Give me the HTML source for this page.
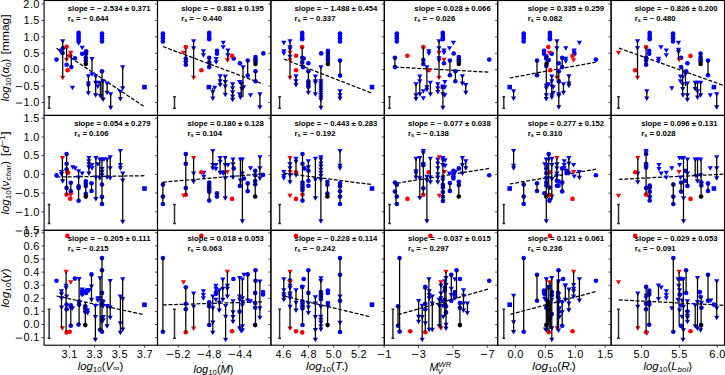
<!DOCTYPE html>
<html><head><meta charset="utf-8"><style>
html,body{margin:0;padding:0;background:#fff;}
svg{display:block;}
text{font-family:"Liberation Sans", sans-serif;fill:#000;}
</style></head><body>
<svg width="725" height="375" viewBox="0 0 725 375">
<rect width="725" height="375" fill="#fff"/>
<defs>
<clipPath id="c00"><rect x="44.10" y="0.50" width="113.40" height="114.90"/></clipPath>
<clipPath id="c01"><rect x="157.50" y="0.50" width="113.40" height="114.90"/></clipPath>
<clipPath id="c02"><rect x="270.90" y="0.50" width="113.40" height="114.90"/></clipPath>
<clipPath id="c03"><rect x="384.30" y="0.50" width="113.40" height="114.90"/></clipPath>
<clipPath id="c04"><rect x="497.70" y="0.50" width="113.40" height="114.90"/></clipPath>
<clipPath id="c05"><rect x="611.10" y="0.50" width="113.40" height="114.90"/></clipPath>
<clipPath id="c10"><rect x="44.10" y="115.40" width="113.40" height="114.90"/></clipPath>
<clipPath id="c11"><rect x="157.50" y="115.40" width="113.40" height="114.90"/></clipPath>
<clipPath id="c12"><rect x="270.90" y="115.40" width="113.40" height="114.90"/></clipPath>
<clipPath id="c13"><rect x="384.30" y="115.40" width="113.40" height="114.90"/></clipPath>
<clipPath id="c14"><rect x="497.70" y="115.40" width="113.40" height="114.90"/></clipPath>
<clipPath id="c15"><rect x="611.10" y="115.40" width="113.40" height="114.90"/></clipPath>
<clipPath id="c20"><rect x="44.10" y="230.30" width="113.40" height="114.90"/></clipPath>
<clipPath id="c21"><rect x="157.50" y="230.30" width="113.40" height="114.90"/></clipPath>
<clipPath id="c22"><rect x="270.90" y="230.30" width="113.40" height="114.90"/></clipPath>
<clipPath id="c23"><rect x="384.30" y="230.30" width="113.40" height="114.90"/></clipPath>
<clipPath id="c24"><rect x="497.70" y="230.30" width="113.40" height="114.90"/></clipPath>
<clipPath id="c25"><rect x="611.10" y="230.30" width="113.40" height="114.90"/></clipPath>
</defs>
<g clip-path="url(#c00)">
<line x1="56.5" y1="48.3" x2="143.8" y2="106.3" stroke="#000" stroke-width="1.25" stroke-dasharray="3.9,1.7"/>
<path d="M49.1,96.7V108.2M47.7,96.7H50.5M47.7,108.2H50.5" stroke="#2a2a2a" stroke-width="1.45" fill="none"/>
<circle cx="78.6" cy="32.8" r="2.32" fill="#0000ff"/>
<circle cx="78.6" cy="35" r="2.32" fill="#0000ff"/>
<circle cx="78.6" cy="37" r="2.32" fill="#0000ff"/>
<circle cx="78.6" cy="39" r="2.32" fill="#0000ff"/>
<circle cx="78.6" cy="41" r="2.32" fill="#0000ff"/>
<circle cx="102" cy="33.6" r="2.32" fill="#0000ff"/>
<circle cx="102" cy="35.9" r="2.32" fill="#0000ff"/>
<circle cx="102" cy="38.2" r="2.32" fill="#0000ff"/>
<circle cx="102" cy="41.4" r="2.32" fill="#0000ff"/>
<circle cx="61" cy="50.5" r="2.32" fill="#0000ff"/>
<circle cx="62.5" cy="53" r="2.32" fill="#0000ff"/>
<circle cx="63" cy="48" r="2.32" fill="#0000ff"/>
<circle cx="56.5" cy="59.6" r="2.32" fill="#0000ff"/>
<circle cx="74.9" cy="58.2" r="2.32" fill="#0000ff"/>
<circle cx="66.6" cy="64.7" r="2.32" fill="#0000ff"/>
<circle cx="71.3" cy="67.1" r="2.32" fill="#0000ff"/>
<circle cx="82.2" cy="53.8" r="2.32" fill="#0000ff"/>
<circle cx="86.1" cy="51.2" r="2.32" fill="#0000ff"/>
<circle cx="86.1" cy="53.8" r="2.32" fill="#0000ff"/>
<circle cx="85.8" cy="57.7" r="2.32" fill="#0000ff"/>
<circle cx="85.8" cy="60.8" r="2.32" fill="#0000ff"/>
<circle cx="102" cy="71.2" r="2.32" fill="#0000ff"/>
<path d="M76.00,41.15H81.20L78.60,45.65Z" fill="#0000ff"/>
<path d="M60.10,39.15H65.30L62.70,43.65Z" fill="#0000ff"/>
<path d="M79.60,45.75H84.80L82.20,50.25Z" fill="#0000ff"/>
<path d="M89.40,57.05H94.60L92.00,61.55Z" fill="#0000ff"/>
<path d="M120.10,65.15H125.30L122.70,69.65Z" fill="#0000ff"/>
<path d="M85.80,74.15H91.00L88.40,78.65Z" fill="#0000ff"/>
<path d="M89.40,72.15H94.60L92.00,76.65Z" fill="#0000ff"/>
<path d="M93.10,74.45H98.30L95.70,78.95Z" fill="#0000ff"/>
<path d="M85.80,81.45H91.00L88.40,85.95Z" fill="#0000ff"/>
<path d="M85.80,83.75H91.00L88.40,88.25Z" fill="#0000ff"/>
<path d="M85.80,91.25H91.00L88.40,95.75Z" fill="#0000ff"/>
<path d="M93.10,80.75H98.30L95.70,85.25Z" fill="#0000ff"/>
<path d="M93.10,93.15H98.30L95.70,97.65Z" fill="#0000ff"/>
<path d="M96.00,80.75H101.20L98.60,85.25Z" fill="#0000ff"/>
<path d="M95.20,84.55H100.40L97.80,89.05Z" fill="#0000ff"/>
<path d="M100.30,79.15H105.50L102.90,83.65Z" fill="#0000ff"/>
<path d="M97.80,93.95H103.00L100.40,98.45Z" fill="#0000ff"/>
<path d="M100.60,97.55H105.80L103.20,102.05Z" fill="#0000ff"/>
<path d="M104.50,81.45H109.70L107.10,85.95Z" fill="#0000ff"/>
<path d="M104.50,90.85H109.70L107.10,95.35Z" fill="#0000ff"/>
<path d="M108.10,92.35H113.30L110.70,96.85Z" fill="#0000ff"/>
<path d="M108.10,105.65H113.30L110.70,110.15Z" fill="#0000ff"/>
<path d="M120.10,86.15H125.30L122.70,90.65Z" fill="#0000ff"/>
<path d="M117.80,89.75H123.00L120.40,94.25Z" fill="#0000ff"/>
<path d="M117.80,97.05H123.00L120.40,101.55Z" fill="#0000ff"/>
<path d="M69.90,85.65H75.10L72.50,90.15Z" fill="#0000ff"/>
<rect x="142.20" y="84.80" width="4.6" height="4.6" fill="#0000ff"/>
<circle cx="66.6" cy="46.8" r="2.32" fill="#ff0000"/>
<circle cx="70.2" cy="55.4" r="2.32" fill="#ff0000"/>
<circle cx="67.7" cy="70.2" r="2.32" fill="#ff0000"/>
<path d="M60.10,75.75H65.30L62.70,80.25Z" fill="#ff0000"/>
<path d="M68.20,50.75H73.40L70.80,55.25Z" fill="#ff0000"/>
<path d="M64.00,57.75H69.20L66.60,62.25Z" fill="#ff0000"/>
<circle cx="85.8" cy="64" r="2.32" fill="#000000"/>
<line x1="62.7" y1="41.4" x2="62.7" y2="78" stroke="#000" stroke-width="1.25"/>
<line x1="66.6" y1="48.4" x2="66.6" y2="60.8" stroke="#000" stroke-width="1.25"/>
<line x1="71.3" y1="54.6" x2="71.3" y2="67.1" stroke="#000" stroke-width="1.25"/>
<line x1="85.8" y1="51.2" x2="85.8" y2="64" stroke="#000" stroke-width="1.25"/>
<line x1="92" y1="59.3" x2="92" y2="71.8" stroke="#000" stroke-width="1.25"/>
<line x1="102" y1="71.2" x2="102" y2="100" stroke="#000" stroke-width="1.25"/>
<line x1="122.7" y1="67.4" x2="122.7" y2="88.4" stroke="#000" stroke-width="1.25"/>
<line x1="120.4" y1="92" x2="120.4" y2="99.3" stroke="#000" stroke-width="1.25"/>
<line x1="88.4" y1="76.4" x2="88.4" y2="93.5" stroke="#000" stroke-width="1.25"/>
<line x1="95.7" y1="76.7" x2="95.7" y2="95.4" stroke="#000" stroke-width="1.25"/>
<line x1="100.4" y1="81.4" x2="100.4" y2="96.2" stroke="#000" stroke-width="1.25"/>
<line x1="103" y1="81.4" x2="103" y2="99.8" stroke="#000" stroke-width="1.25"/>
<line x1="107.1" y1="83.7" x2="107.1" y2="93.1" stroke="#000" stroke-width="1.25"/>
<line x1="110.7" y1="94.6" x2="110.7" y2="107.9" stroke="#000" stroke-width="1.25"/>
</g>
<g clip-path="url(#c01)">
<line x1="162.9" y1="46.5" x2="263" y2="84" stroke="#000" stroke-width="1.25" stroke-dasharray="3.9,1.7"/>
<path d="M174.5,96.7V108.2M173.1,96.7H175.9M173.1,108.2H175.9" stroke="#2a2a2a" stroke-width="1.45" fill="none"/>
<circle cx="162.9" cy="33.6" r="2.32" fill="#0000ff"/>
<circle cx="162.9" cy="35.9" r="2.32" fill="#0000ff"/>
<circle cx="162.9" cy="38.2" r="2.32" fill="#0000ff"/>
<circle cx="162.9" cy="41.4" r="2.32" fill="#0000ff"/>
<circle cx="209.2" cy="32.8" r="2.32" fill="#0000ff"/>
<circle cx="209.2" cy="35.1" r="2.32" fill="#0000ff"/>
<circle cx="209.2" cy="37.5" r="2.32" fill="#0000ff"/>
<circle cx="209.2" cy="39.3" r="2.32" fill="#0000ff"/>
<circle cx="185.8" cy="58.5" r="2.32" fill="#0000ff"/>
<circle cx="185.8" cy="61.2" r="2.32" fill="#0000ff"/>
<circle cx="185.8" cy="64.7" r="2.32" fill="#0000ff"/>
<circle cx="209.2" cy="57.7" r="2.32" fill="#0000ff"/>
<circle cx="209.2" cy="62.4" r="2.32" fill="#0000ff"/>
<circle cx="209.2" cy="67.1" r="2.32" fill="#0000ff"/>
<circle cx="217" cy="50.7" r="2.32" fill="#0000ff"/>
<circle cx="217" cy="53.8" r="2.32" fill="#0000ff"/>
<circle cx="233.7" cy="58.5" r="2.32" fill="#0000ff"/>
<circle cx="239.9" cy="63.2" r="2.32" fill="#0000ff"/>
<circle cx="247.7" cy="60.5" r="2.32" fill="#0000ff"/>
<circle cx="247.7" cy="75.6" r="2.32" fill="#0000ff"/>
<circle cx="255.5" cy="57" r="2.32" fill="#0000ff"/>
<circle cx="255.5" cy="59.3" r="2.32" fill="#0000ff"/>
<circle cx="255.5" cy="61.2" r="2.32" fill="#0000ff"/>
<circle cx="255.5" cy="71.3" r="2.32" fill="#0000ff"/>
<circle cx="255.5" cy="81.2" r="2.32" fill="#0000ff"/>
<circle cx="263.3" cy="53.4" r="2.32" fill="#0000ff"/>
<path d="M191.00,39.15H196.20L193.60,43.65Z" fill="#0000ff"/>
<path d="M191.00,46.15H196.20L193.60,50.65Z" fill="#0000ff"/>
<path d="M200.80,49.25H206.00L203.40,53.75Z" fill="#0000ff"/>
<path d="M200.80,53.15H206.00L203.40,57.65Z" fill="#0000ff"/>
<path d="M213.60,57.05H218.80L216.20,61.55Z" fill="#0000ff"/>
<path d="M213.60,60.15H218.80L216.20,64.65Z" fill="#0000ff"/>
<path d="M220.60,40.65H225.80L223.20,45.15Z" fill="#0000ff"/>
<path d="M220.60,45.35H225.80L223.20,49.85Z" fill="#0000ff"/>
<path d="M225.30,48.45H230.50L227.90,52.95Z" fill="#0000ff"/>
<path d="M225.30,53.15H230.50L227.90,57.65Z" fill="#0000ff"/>
<path d="M240.40,65.15H245.60L243.00,69.65Z" fill="#0000ff"/>
<path d="M212.10,85.65H217.30L214.70,90.15Z" fill="#0000ff"/>
<path d="M210.20,90.05H215.40L212.80,94.55Z" fill="#0000ff"/>
<path d="M210.20,96.55H215.40L212.80,101.05Z" fill="#0000ff"/>
<path d="M217.50,74.15H222.70L220.10,78.65Z" fill="#0000ff"/>
<path d="M217.50,79.15H222.70L220.10,83.65Z" fill="#0000ff"/>
<path d="M217.50,83.05H222.70L220.10,87.55Z" fill="#0000ff"/>
<path d="M222.70,74.45H227.90L225.30,78.95Z" fill="#0000ff"/>
<path d="M222.70,79.95H227.90L225.30,84.45Z" fill="#0000ff"/>
<path d="M222.70,84.55H227.90L225.30,89.05Z" fill="#0000ff"/>
<path d="M222.70,92.85H227.90L225.30,97.35Z" fill="#0000ff"/>
<path d="M230.00,82.25H235.20L232.60,86.75Z" fill="#0000ff"/>
<path d="M230.00,86.15H235.20L232.60,90.65Z" fill="#0000ff"/>
<path d="M230.00,90.35H235.20L232.60,94.85Z" fill="#0000ff"/>
<path d="M230.00,94.45H235.20L232.60,98.95Z" fill="#0000ff"/>
<path d="M230.00,97.85H235.20L232.60,102.35Z" fill="#0000ff"/>
<path d="M237.00,79.95H242.20L239.60,84.45Z" fill="#0000ff"/>
<path d="M238.60,81.45H243.80L241.20,85.95Z" fill="#0000ff"/>
<path d="M237.00,92.35H242.20L239.60,96.85Z" fill="#0000ff"/>
<path d="M237.80,95.45H243.00L240.40,99.95Z" fill="#0000ff"/>
<path d="M239.30,86.95H244.50L241.90,91.45Z" fill="#0000ff"/>
<path d="M240.90,85.35H246.10L243.50,89.85Z" fill="#0000ff"/>
<path d="M247.90,93.15H253.10L250.50,97.65Z" fill="#0000ff"/>
<path d="M257.30,92.35H262.50L259.90,96.85Z" fill="#0000ff"/>
<path d="M257.30,105.35H262.50L259.90,109.85Z" fill="#0000ff"/>
<rect x="206.60" y="84.80" width="4.6" height="4.6" fill="#0000ff"/>
<circle cx="185.8" cy="47.1" r="2.32" fill="#ff0000"/>
<circle cx="201.4" cy="70.2" r="2.32" fill="#ff0000"/>
<circle cx="232.1" cy="55.9" r="2.32" fill="#ff0000"/>
<path d="M180.90,50.85H186.10L183.50,55.35Z" fill="#ff0000"/>
<path d="M191.00,75.75H196.20L193.60,80.25Z" fill="#ff0000"/>
<path d="M224.80,58.25H230.00L227.40,62.75Z" fill="#ff0000"/>
<circle cx="255.5" cy="64" r="2.32" fill="#000000"/>
<line x1="185.8" y1="48.4" x2="185.8" y2="64.7" stroke="#000" stroke-width="1.25"/>
<line x1="193.6" y1="41.4" x2="193.6" y2="78" stroke="#000" stroke-width="1.25"/>
<line x1="203.4" y1="51.5" x2="203.4" y2="55.4" stroke="#000" stroke-width="1.25"/>
<line x1="209.2" y1="57.7" x2="209.2" y2="67.1" stroke="#000" stroke-width="1.25"/>
<line x1="227.9" y1="50.7" x2="227.9" y2="60.5" stroke="#000" stroke-width="1.25"/>
<line x1="243" y1="67.4" x2="243" y2="97" stroke="#000" stroke-width="1.25"/>
<line x1="241.2" y1="82" x2="241.2" y2="97" stroke="#000" stroke-width="1.25"/>
<line x1="247.7" y1="60.5" x2="247.7" y2="75.6" stroke="#000" stroke-width="1.25"/>
<line x1="255.5" y1="57" x2="255.5" y2="64" stroke="#000" stroke-width="1.25"/>
<line x1="255.5" y1="71.3" x2="255.5" y2="81.4" stroke="#000" stroke-width="1.25"/>
<line x1="212.8" y1="87.9" x2="212.8" y2="98.8" stroke="#000" stroke-width="1.25"/>
<line x1="220.1" y1="76.4" x2="220.1" y2="85.3" stroke="#000" stroke-width="1.25"/>
<line x1="225.3" y1="76.7" x2="225.3" y2="95.1" stroke="#000" stroke-width="1.25"/>
<line x1="232.6" y1="84.5" x2="232.6" y2="100.1" stroke="#000" stroke-width="1.25"/>
<line x1="259.9" y1="94.6" x2="259.9" y2="107.6" stroke="#000" stroke-width="1.25"/>
</g>
<g clip-path="url(#c02)">
<line x1="283.8" y1="59" x2="371.5" y2="93" stroke="#000" stroke-width="1.25" stroke-dasharray="3.9,1.7"/>
<path d="M279.6,96.7V108.2M278.20000000000005,96.7H281.0M278.20000000000005,108.2H281.0" stroke="#2a2a2a" stroke-width="1.45" fill="none"/>
<circle cx="302.2" cy="32.8" r="2.32" fill="#0000ff"/>
<circle cx="302.2" cy="35.1" r="2.32" fill="#0000ff"/>
<circle cx="302.2" cy="37.5" r="2.32" fill="#0000ff"/>
<circle cx="302.2" cy="39.3" r="2.32" fill="#0000ff"/>
<circle cx="340" cy="33.6" r="2.32" fill="#0000ff"/>
<circle cx="340" cy="35.9" r="2.32" fill="#0000ff"/>
<circle cx="340" cy="38.2" r="2.32" fill="#0000ff"/>
<circle cx="340" cy="41.4" r="2.32" fill="#0000ff"/>
<circle cx="302.2" cy="57.7" r="2.32" fill="#0000ff"/>
<circle cx="303.7" cy="58.5" r="2.32" fill="#0000ff"/>
<circle cx="302.2" cy="62.4" r="2.32" fill="#0000ff"/>
<circle cx="303" cy="67.1" r="2.32" fill="#0000ff"/>
<circle cx="308.4" cy="63.2" r="2.32" fill="#0000ff"/>
<circle cx="308.4" cy="71.3" r="2.32" fill="#0000ff"/>
<circle cx="308.4" cy="81.2" r="2.32" fill="#0000ff"/>
<circle cx="308.4" cy="83.7" r="2.32" fill="#0000ff"/>
<circle cx="308.4" cy="86" r="2.32" fill="#0000ff"/>
<circle cx="321.2" cy="53.4" r="2.32" fill="#0000ff"/>
<circle cx="327.9" cy="50.7" r="2.32" fill="#0000ff"/>
<circle cx="327.9" cy="53.1" r="2.32" fill="#0000ff"/>
<circle cx="327.9" cy="55.9" r="2.32" fill="#0000ff"/>
<circle cx="327.9" cy="58.5" r="2.32" fill="#0000ff"/>
<circle cx="327.9" cy="60.8" r="2.32" fill="#0000ff"/>
<circle cx="340" cy="60.5" r="2.32" fill="#0000ff"/>
<circle cx="340" cy="75.6" r="2.32" fill="#0000ff"/>
<path d="M281.20,40.65H286.40L283.80,45.15Z" fill="#0000ff"/>
<path d="M281.20,49.25H286.40L283.80,53.75Z" fill="#0000ff"/>
<path d="M281.20,51.55H286.40L283.80,56.05Z" fill="#0000ff"/>
<path d="M287.40,39.15H292.60L290.00,43.65Z" fill="#0000ff"/>
<path d="M287.40,45.35H292.60L290.00,49.85Z" fill="#0000ff"/>
<path d="M287.40,47.35H292.60L290.00,51.85Z" fill="#0000ff"/>
<path d="M287.40,54.75H292.60L290.00,59.25Z" fill="#0000ff"/>
<path d="M293.40,74.15H298.60L296.00,78.65Z" fill="#0000ff"/>
<path d="M293.40,79.15H298.60L296.00,83.65Z" fill="#0000ff"/>
<path d="M293.40,83.05H298.60L296.00,87.55Z" fill="#0000ff"/>
<path d="M305.80,86.15H311.00L308.40,90.65Z" fill="#0000ff"/>
<path d="M305.80,90.85H311.00L308.40,95.35Z" fill="#0000ff"/>
<path d="M312.80,74.45H318.00L315.40,78.95Z" fill="#0000ff"/>
<path d="M312.80,79.15H318.00L315.40,83.65Z" fill="#0000ff"/>
<path d="M312.80,80.75H318.00L315.40,85.25Z" fill="#0000ff"/>
<path d="M312.80,92.35H318.00L315.40,96.85Z" fill="#0000ff"/>
<path d="M318.30,65.15H323.50L320.90,69.65Z" fill="#0000ff"/>
<path d="M318.30,79.15H323.50L320.90,83.65Z" fill="#0000ff"/>
<path d="M318.30,81.45H323.50L320.90,85.95Z" fill="#0000ff"/>
<path d="M318.30,83.75H323.50L320.90,88.25Z" fill="#0000ff"/>
<path d="M318.30,86.15H323.50L320.90,90.65Z" fill="#0000ff"/>
<path d="M318.30,88.45H323.50L320.90,92.95Z" fill="#0000ff"/>
<path d="M318.30,90.75H323.50L320.90,95.25Z" fill="#0000ff"/>
<path d="M318.30,93.15H323.50L320.90,97.65Z" fill="#0000ff"/>
<path d="M318.30,95.45H323.50L320.90,99.95Z" fill="#0000ff"/>
<path d="M318.30,97.75H323.50L320.90,102.25Z" fill="#0000ff"/>
<path d="M318.30,105.65H323.50L320.90,110.15Z" fill="#0000ff"/>
<path d="M337.40,89.25H342.60L340.00,93.75Z" fill="#0000ff"/>
<path d="M337.40,93.15H342.60L340.00,97.65Z" fill="#0000ff"/>
<path d="M337.40,96.55H342.60L340.00,101.05Z" fill="#0000ff"/>
<rect x="369.70" y="84.80" width="4.6" height="4.6" fill="#0000ff"/>
<circle cx="302.2" cy="47.1" r="2.32" fill="#ff0000"/>
<circle cx="296" cy="55.7" r="2.32" fill="#ff0000"/>
<circle cx="296" cy="70.2" r="2.32" fill="#ff0000"/>
<path d="M287.40,50.85H292.60L290.00,55.35Z" fill="#ff0000"/>
<path d="M287.40,58.25H292.60L290.00,62.75Z" fill="#ff0000"/>
<path d="M287.40,75.75H292.60L290.00,80.25Z" fill="#ff0000"/>
<circle cx="327.9" cy="64" r="2.32" fill="#000000"/>
<line x1="302.2" y1="47.1" x2="302.2" y2="67.1" stroke="#000" stroke-width="1.25"/>
<line x1="290" y1="41.4" x2="290" y2="78" stroke="#000" stroke-width="1.25"/>
<line x1="296" y1="76.4" x2="296" y2="85.3" stroke="#000" stroke-width="1.25"/>
<line x1="308.4" y1="71.3" x2="308.4" y2="93.1" stroke="#000" stroke-width="1.25"/>
<line x1="315.4" y1="76.7" x2="315.4" y2="94.6" stroke="#000" stroke-width="1.25"/>
<line x1="320.9" y1="67.4" x2="320.9" y2="107.9" stroke="#000" stroke-width="1.25"/>
<line x1="327.9" y1="50.7" x2="327.9" y2="64" stroke="#000" stroke-width="1.25"/>
<line x1="340" y1="60.5" x2="340" y2="75.6" stroke="#000" stroke-width="1.25"/>
<line x1="340" y1="91.5" x2="340" y2="98.8" stroke="#000" stroke-width="1.25"/>
</g>
<g clip-path="url(#c03)">
<line x1="394.9" y1="67.1" x2="489.2" y2="72.2" stroke="#000" stroke-width="1.25" stroke-dasharray="3.9,1.7"/>
<path d="M389.5,96.7V108.2M388.1,96.7H390.9M388.1,108.2H390.9" stroke="#2a2a2a" stroke-width="1.45" fill="none"/>
<circle cx="396.8" cy="33.6" r="2.32" fill="#0000ff"/>
<circle cx="396.8" cy="35.9" r="2.32" fill="#0000ff"/>
<circle cx="396.8" cy="38.2" r="2.32" fill="#0000ff"/>
<circle cx="396.8" cy="41.4" r="2.32" fill="#0000ff"/>
<circle cx="442.8" cy="32.8" r="2.32" fill="#0000ff"/>
<circle cx="442.8" cy="35.1" r="2.32" fill="#0000ff"/>
<circle cx="442.8" cy="37.5" r="2.32" fill="#0000ff"/>
<circle cx="442.8" cy="39.3" r="2.32" fill="#0000ff"/>
<circle cx="394.9" cy="57.7" r="2.32" fill="#0000ff"/>
<circle cx="394.9" cy="67.1" r="2.32" fill="#0000ff"/>
<circle cx="423.3" cy="60.1" r="2.32" fill="#0000ff"/>
<circle cx="423.3" cy="64" r="2.32" fill="#0000ff"/>
<circle cx="444" cy="63.2" r="2.32" fill="#0000ff"/>
<circle cx="453.7" cy="53.5" r="2.32" fill="#0000ff"/>
<circle cx="449.9" cy="60.5" r="2.32" fill="#0000ff"/>
<circle cx="449.9" cy="75.3" r="2.32" fill="#0000ff"/>
<circle cx="458.8" cy="57" r="2.32" fill="#0000ff"/>
<circle cx="458.8" cy="59.3" r="2.32" fill="#0000ff"/>
<circle cx="458.8" cy="61.2" r="2.32" fill="#0000ff"/>
<circle cx="455.4" cy="71.3" r="2.32" fill="#0000ff"/>
<circle cx="455.4" cy="81.2" r="2.32" fill="#0000ff"/>
<circle cx="489.2" cy="59.6" r="2.32" fill="#0000ff"/>
<path d="M426.30,49.25H431.50L428.90,53.75Z" fill="#0000ff"/>
<path d="M426.30,51.55H431.50L428.90,56.05Z" fill="#0000ff"/>
<path d="M424.30,65.15H429.50L426.90,69.65Z" fill="#0000ff"/>
<path d="M436.40,39.15H441.60L439.00,43.65Z" fill="#0000ff"/>
<path d="M436.40,46.15H441.60L439.00,50.65Z" fill="#0000ff"/>
<path d="M436.40,56.25H441.60L439.00,60.75Z" fill="#0000ff"/>
<path d="M436.40,58.55H441.60L439.00,63.05Z" fill="#0000ff"/>
<path d="M441.40,48.45H446.60L444.00,52.95Z" fill="#0000ff"/>
<path d="M441.40,50.85H446.60L444.00,55.35Z" fill="#0000ff"/>
<path d="M446.90,46.15H452.10L449.50,50.65Z" fill="#0000ff"/>
<path d="M450.80,40.65H456.00L453.40,45.15Z" fill="#0000ff"/>
<path d="M413.40,82.25H418.60L416.00,86.75Z" fill="#0000ff"/>
<path d="M413.40,93.15H418.60L416.00,97.65Z" fill="#0000ff"/>
<path d="M413.40,97.05H418.60L416.00,101.55Z" fill="#0000ff"/>
<path d="M417.20,74.45H422.40L419.80,78.95Z" fill="#0000ff"/>
<path d="M417.20,79.15H422.40L419.80,83.65Z" fill="#0000ff"/>
<path d="M417.20,92.35H422.40L419.80,96.85Z" fill="#0000ff"/>
<path d="M420.70,89.25H425.90L423.30,93.75Z" fill="#0000ff"/>
<path d="M420.70,96.25H425.90L423.30,100.75Z" fill="#0000ff"/>
<path d="M424.30,85.35H429.50L426.90,89.85Z" fill="#0000ff"/>
<path d="M424.30,87.75H429.50L426.90,92.25Z" fill="#0000ff"/>
<path d="M427.80,80.75H433.00L430.40,85.25Z" fill="#0000ff"/>
<path d="M427.80,92.35H433.00L430.40,96.85Z" fill="#0000ff"/>
<path d="M435.20,82.25H440.40L437.80,86.75Z" fill="#0000ff"/>
<path d="M435.20,86.15H440.40L437.80,90.65Z" fill="#0000ff"/>
<path d="M435.20,90.05H440.40L437.80,94.55Z" fill="#0000ff"/>
<path d="M440.30,92.35H445.50L442.90,96.85Z" fill="#0000ff"/>
<path d="M440.30,105.65H445.50L442.90,110.15Z" fill="#0000ff"/>
<path d="M442.20,79.95H447.40L444.80,84.45Z" fill="#0000ff"/>
<path d="M442.20,85.35H447.40L444.80,89.85Z" fill="#0000ff"/>
<path d="M442.20,93.15H447.40L444.80,97.65Z" fill="#0000ff"/>
<path d="M459.80,74.15H465.00L462.40,78.65Z" fill="#0000ff"/>
<path d="M459.80,81.45H465.00L462.40,85.95Z" fill="#0000ff"/>
<path d="M463.20,83.05H468.40L465.80,87.55Z" fill="#0000ff"/>
<path d="M463.20,90.85H468.40L465.80,95.35Z" fill="#0000ff"/>
<rect x="440.60" y="84.50" width="4.6" height="4.6" fill="#0000ff"/>
<circle cx="407.4" cy="55.7" r="2.32" fill="#ff0000"/>
<circle cx="423.3" cy="47.1" r="2.32" fill="#ff0000"/>
<circle cx="428.7" cy="70.2" r="2.32" fill="#ff0000"/>
<path d="M436.40,50.85H441.60L439.00,55.35Z" fill="#ff0000"/>
<path d="M436.40,75.75H441.60L439.00,80.25Z" fill="#ff0000"/>
<path d="M441.40,57.85H446.60L444.00,62.35Z" fill="#ff0000"/>
<circle cx="458.8" cy="64" r="2.32" fill="#000000"/>
<line x1="394.9" y1="57.7" x2="394.9" y2="67.1" stroke="#000" stroke-width="1.25"/>
<line x1="423.3" y1="47.1" x2="423.3" y2="64" stroke="#000" stroke-width="1.25"/>
<line x1="426.9" y1="67.4" x2="426.9" y2="90" stroke="#000" stroke-width="1.25"/>
<line x1="439" y1="41.4" x2="439" y2="78" stroke="#000" stroke-width="1.25"/>
<line x1="449.9" y1="60.5" x2="449.9" y2="75.3" stroke="#000" stroke-width="1.25"/>
<line x1="455.4" y1="71.3" x2="455.4" y2="81.2" stroke="#000" stroke-width="1.25"/>
<line x1="458.8" y1="57" x2="458.8" y2="64" stroke="#000" stroke-width="1.25"/>
<line x1="416" y1="84.5" x2="416" y2="99.3" stroke="#000" stroke-width="1.25"/>
<line x1="419.8" y1="76.7" x2="419.8" y2="94.6" stroke="#000" stroke-width="1.25"/>
<line x1="430.4" y1="83" x2="430.4" y2="94.6" stroke="#000" stroke-width="1.25"/>
<line x1="437.8" y1="84.5" x2="437.8" y2="92.3" stroke="#000" stroke-width="1.25"/>
<line x1="442.9" y1="86.8" x2="442.9" y2="107.9" stroke="#000" stroke-width="1.25"/>
<line x1="462.4" y1="76.4" x2="462.4" y2="83.7" stroke="#000" stroke-width="1.25"/>
<line x1="465.8" y1="85.3" x2="465.8" y2="93.1" stroke="#000" stroke-width="1.25"/>
</g>
<g clip-path="url(#c04)">
<line x1="509.7" y1="78" x2="595.9" y2="62.1" stroke="#000" stroke-width="1.25" stroke-dasharray="3.9,1.7"/>
<path d="M503.8,96.7V108.2M502.40000000000003,96.7H505.2M502.40000000000003,108.2H505.2" stroke="#2a2a2a" stroke-width="1.45" fill="none"/>
<circle cx="523.7" cy="33.6" r="2.32" fill="#0000ff"/>
<circle cx="523.7" cy="35.9" r="2.32" fill="#0000ff"/>
<circle cx="523.7" cy="38.2" r="2.32" fill="#0000ff"/>
<circle cx="523.7" cy="41.4" r="2.32" fill="#0000ff"/>
<circle cx="549.9" cy="32.8" r="2.32" fill="#0000ff"/>
<circle cx="549.9" cy="35.1" r="2.32" fill="#0000ff"/>
<circle cx="549.9" cy="37.5" r="2.32" fill="#0000ff"/>
<circle cx="549.9" cy="39.3" r="2.32" fill="#0000ff"/>
<circle cx="537" cy="60.5" r="2.32" fill="#0000ff"/>
<circle cx="537" cy="75.2" r="2.32" fill="#0000ff"/>
<circle cx="544" cy="50.7" r="2.32" fill="#0000ff"/>
<circle cx="544" cy="53.8" r="2.32" fill="#0000ff"/>
<circle cx="546.3" cy="56.2" r="2.32" fill="#0000ff"/>
<circle cx="546.3" cy="58.5" r="2.32" fill="#0000ff"/>
<circle cx="548.7" cy="60.1" r="2.32" fill="#0000ff"/>
<circle cx="551.8" cy="53.8" r="2.32" fill="#0000ff"/>
<circle cx="546.3" cy="66" r="2.32" fill="#0000ff"/>
<circle cx="558.8" cy="63.2" r="2.32" fill="#0000ff"/>
<circle cx="558.8" cy="71.3" r="2.32" fill="#0000ff"/>
<circle cx="558.8" cy="81.4" r="2.32" fill="#0000ff"/>
<circle cx="562.2" cy="57.7" r="2.32" fill="#0000ff"/>
<circle cx="562.2" cy="67.1" r="2.32" fill="#0000ff"/>
<circle cx="574.4" cy="53.8" r="2.32" fill="#0000ff"/>
<circle cx="595.9" cy="59.6" r="2.32" fill="#0000ff"/>
<path d="M554.30,39.15H559.50L556.90,43.65Z" fill="#0000ff"/>
<path d="M554.30,46.15H559.50L556.90,50.65Z" fill="#0000ff"/>
<path d="M563.20,46.15H568.40L565.80,50.65Z" fill="#0000ff"/>
<path d="M563.20,56.75H568.40L565.80,61.25Z" fill="#0000ff"/>
<path d="M563.20,59.35H568.40L565.80,63.85Z" fill="#0000ff"/>
<path d="M571.50,48.45H576.70L574.10,52.95Z" fill="#0000ff"/>
<path d="M571.50,50.85H576.70L574.10,55.35Z" fill="#0000ff"/>
<path d="M576.80,40.65H582.00L579.40,45.15Z" fill="#0000ff"/>
<path d="M511.00,89.25H516.20L513.60,93.75Z" fill="#0000ff"/>
<path d="M511.00,96.55H516.20L513.60,101.05Z" fill="#0000ff"/>
<path d="M543.70,83.75H548.90L546.30,88.25Z" fill="#0000ff"/>
<path d="M543.70,86.15H548.90L546.30,90.65Z" fill="#0000ff"/>
<path d="M543.70,93.15H548.90L546.30,97.65Z" fill="#0000ff"/>
<path d="M543.70,97.05H548.90L546.30,101.55Z" fill="#0000ff"/>
<path d="M546.10,82.25H551.30L548.70,86.75Z" fill="#0000ff"/>
<path d="M549.20,74.45H554.40L551.80,78.95Z" fill="#0000ff"/>
<path d="M549.20,79.15H554.40L551.80,83.65Z" fill="#0000ff"/>
<path d="M549.20,84.55H554.40L551.80,89.05Z" fill="#0000ff"/>
<path d="M549.20,93.15H554.40L551.80,97.65Z" fill="#0000ff"/>
<path d="M549.20,95.45H554.40L551.80,99.95Z" fill="#0000ff"/>
<path d="M550.70,85.35H555.90L553.30,89.85Z" fill="#0000ff"/>
<path d="M550.70,90.85H555.90L553.30,95.35Z" fill="#0000ff"/>
<path d="M556.20,92.35H561.40L558.80,96.85Z" fill="#0000ff"/>
<path d="M556.20,93.95H561.40L558.80,98.45Z" fill="#0000ff"/>
<path d="M556.20,105.35H561.40L558.80,109.85Z" fill="#0000ff"/>
<path d="M560.90,82.25H566.10L563.50,86.75Z" fill="#0000ff"/>
<path d="M560.90,90.85H566.10L563.50,95.35Z" fill="#0000ff"/>
<path d="M566.30,74.15H571.50L568.90,78.65Z" fill="#0000ff"/>
<path d="M566.30,81.45H571.50L568.90,85.95Z" fill="#0000ff"/>
<path d="M566.30,83.75H571.50L568.90,88.25Z" fill="#0000ff"/>
<rect x="507.40" y="84.80" width="4.6" height="4.6" fill="#0000ff"/>
<circle cx="548.3" cy="47.1" r="2.32" fill="#ff0000"/>
<circle cx="550.2" cy="70.2" r="2.32" fill="#ff0000"/>
<circle cx="572.5" cy="55.9" r="2.32" fill="#ff0000"/>
<path d="M546.80,50.85H552.00L549.40,55.35Z" fill="#ff0000"/>
<path d="M554.30,75.75H559.50L556.90,80.25Z" fill="#ff0000"/>
<path d="M571.00,58.25H576.20L573.60,62.75Z" fill="#ff0000"/>
<circle cx="546.6" cy="63.7" r="2.32" fill="#000000"/>
<line x1="537" y1="60.5" x2="537" y2="75.2" stroke="#000" stroke-width="1.25"/>
<line x1="546.3" y1="56" x2="546.3" y2="99.3" stroke="#000" stroke-width="1.25"/>
<line x1="551.8" y1="76.7" x2="551.8" y2="97.7" stroke="#000" stroke-width="1.25"/>
<line x1="556.9" y1="41.4" x2="556.9" y2="78" stroke="#000" stroke-width="1.25"/>
<line x1="558.8" y1="71.3" x2="558.8" y2="107.6" stroke="#000" stroke-width="1.25"/>
<line x1="562.2" y1="57.7" x2="562.2" y2="67.1" stroke="#000" stroke-width="1.25"/>
<line x1="513.6" y1="91.5" x2="513.6" y2="98.8" stroke="#000" stroke-width="1.25"/>
<line x1="563.5" y1="84.5" x2="563.5" y2="93.1" stroke="#000" stroke-width="1.25"/>
<line x1="568.9" y1="76.4" x2="568.9" y2="86" stroke="#000" stroke-width="1.25"/>
</g>
<g clip-path="url(#c05)">
<line x1="618.8" y1="48.1" x2="724" y2="85.6" stroke="#000" stroke-width="1.25" stroke-dasharray="3.9,1.7"/>
<path d="M618.5,96.7V108.2M617.1,96.7H619.9M617.1,108.2H619.9" stroke="#2a2a2a" stroke-width="1.45" fill="none"/>
<circle cx="649.7" cy="32.8" r="2.32" fill="#0000ff"/>
<circle cx="649.7" cy="35.1" r="2.32" fill="#0000ff"/>
<circle cx="649.7" cy="37.5" r="2.32" fill="#0000ff"/>
<circle cx="649.7" cy="39.3" r="2.32" fill="#0000ff"/>
<circle cx="673" cy="33.6" r="2.32" fill="#0000ff"/>
<circle cx="673" cy="35.9" r="2.32" fill="#0000ff"/>
<circle cx="673" cy="38.2" r="2.32" fill="#0000ff"/>
<circle cx="673" cy="41.4" r="2.32" fill="#0000ff"/>
<circle cx="646.1" cy="57.7" r="2.32" fill="#0000ff"/>
<circle cx="646.1" cy="60.8" r="2.32" fill="#0000ff"/>
<circle cx="646.1" cy="64.7" r="2.32" fill="#0000ff"/>
<circle cx="649.2" cy="50.7" r="2.32" fill="#0000ff"/>
<circle cx="649.2" cy="53.8" r="2.32" fill="#0000ff"/>
<circle cx="681.1" cy="57.7" r="2.32" fill="#0000ff"/>
<circle cx="681.1" cy="67.1" r="2.32" fill="#0000ff"/>
<circle cx="687.4" cy="63.2" r="2.32" fill="#0000ff"/>
<circle cx="700.6" cy="53.5" r="2.32" fill="#0000ff"/>
<circle cx="700.6" cy="57" r="2.32" fill="#0000ff"/>
<circle cx="700.6" cy="59.3" r="2.32" fill="#0000ff"/>
<circle cx="700.6" cy="61.2" r="2.32" fill="#0000ff"/>
<circle cx="708" cy="60.5" r="2.32" fill="#0000ff"/>
<circle cx="708" cy="75.2" r="2.32" fill="#0000ff"/>
<circle cx="686.1" cy="71.2" r="2.32" fill="#0000ff"/>
<path d="M634.90,39.15H640.10L637.50,43.65Z" fill="#0000ff"/>
<path d="M634.90,46.15H640.10L637.50,50.65Z" fill="#0000ff"/>
<path d="M658.30,45.35H663.50L660.90,49.85Z" fill="#0000ff"/>
<path d="M663.70,48.45H668.90L666.30,52.95Z" fill="#0000ff"/>
<path d="M663.70,53.15H668.90L666.30,57.65Z" fill="#0000ff"/>
<path d="M655.90,56.75H661.10L658.50,61.25Z" fill="#0000ff"/>
<path d="M655.90,59.35H661.10L658.50,63.85Z" fill="#0000ff"/>
<path d="M675.90,40.65H681.10L678.50,45.15Z" fill="#0000ff"/>
<path d="M675.90,47.65H681.10L678.50,52.15Z" fill="#0000ff"/>
<path d="M675.90,50.05H681.10L678.50,54.55Z" fill="#0000ff"/>
<path d="M644.20,89.25H649.40L646.80,93.75Z" fill="#0000ff"/>
<path d="M644.20,96.55H649.40L646.80,101.05Z" fill="#0000ff"/>
<path d="M669.20,86.15H674.40L671.80,90.65Z" fill="#0000ff"/>
<path d="M677.80,74.45H683.00L680.40,78.95Z" fill="#0000ff"/>
<path d="M680.10,75.25H685.30L682.70,79.75Z" fill="#0000ff"/>
<path d="M677.80,79.15H683.00L680.40,83.65Z" fill="#0000ff"/>
<path d="M680.10,82.25H685.30L682.70,86.75Z" fill="#0000ff"/>
<path d="M680.10,86.95H685.30L682.70,91.45Z" fill="#0000ff"/>
<path d="M680.40,93.15H685.60L683.00,97.65Z" fill="#0000ff"/>
<path d="M682.90,72.15H688.10L685.50,76.65Z" fill="#0000ff"/>
<path d="M684.80,81.45H690.00L687.40,85.95Z" fill="#0000ff"/>
<path d="M684.80,93.15H690.00L687.40,97.65Z" fill="#0000ff"/>
<path d="M684.80,97.85H690.00L687.40,102.35Z" fill="#0000ff"/>
<path d="M692.60,80.65H697.80L695.20,85.15Z" fill="#0000ff"/>
<path d="M694.90,80.65H700.10L697.50,85.15Z" fill="#0000ff"/>
<path d="M698.00,80.65H703.20L700.60,85.15Z" fill="#0000ff"/>
<path d="M692.60,86.95H697.80L695.20,91.45Z" fill="#0000ff"/>
<path d="M694.90,89.25H700.10L697.50,93.75Z" fill="#0000ff"/>
<path d="M694.90,95.45H700.10L697.50,99.95Z" fill="#0000ff"/>
<path d="M698.00,93.15H703.20L700.60,97.65Z" fill="#0000ff"/>
<path d="M707.70,93.15H712.90L710.30,97.65Z" fill="#0000ff"/>
<path d="M714.10,92.35H719.30L716.70,96.85Z" fill="#0000ff"/>
<path d="M714.10,105.35H719.30L716.70,109.85Z" fill="#0000ff"/>
<rect x="711.60" y="84.80" width="4.6" height="4.6" fill="#0000ff"/>
<circle cx="635.2" cy="70.2" r="2.32" fill="#ff0000"/>
<circle cx="646.1" cy="47.1" r="2.32" fill="#ff0000"/>
<circle cx="690.5" cy="55.9" r="2.32" fill="#ff0000"/>
<path d="M615.90,50.85H621.10L618.50,55.35Z" fill="#ff0000"/>
<path d="M634.90,75.75H640.10L637.50,80.25Z" fill="#ff0000"/>
<path d="M676.50,57.85H681.70L679.10,62.35Z" fill="#ff0000"/>
<circle cx="700.6" cy="64" r="2.32" fill="#000000"/>
<line x1="637.5" y1="41.4" x2="637.5" y2="78" stroke="#000" stroke-width="1.25"/>
<line x1="646.1" y1="47.1" x2="646.1" y2="64.7" stroke="#000" stroke-width="1.25"/>
<line x1="678.5" y1="49.9" x2="678.5" y2="60.1" stroke="#000" stroke-width="1.25"/>
<line x1="708" y1="60.5" x2="708" y2="75.2" stroke="#000" stroke-width="1.25"/>
<line x1="700.6" y1="53.5" x2="700.6" y2="64" stroke="#000" stroke-width="1.25"/>
<line x1="682.7" y1="67.4" x2="682.7" y2="95.4" stroke="#000" stroke-width="1.25"/>
<line x1="685.5" y1="71.2" x2="685.5" y2="86" stroke="#000" stroke-width="1.25"/>
<line x1="687.4" y1="83.7" x2="687.4" y2="100.1" stroke="#000" stroke-width="1.25"/>
<line x1="646.8" y1="91.5" x2="646.8" y2="98.8" stroke="#000" stroke-width="1.25"/>
<line x1="695.2" y1="82.9" x2="695.2" y2="89.2" stroke="#000" stroke-width="1.25"/>
<line x1="697.5" y1="82.9" x2="697.5" y2="97.7" stroke="#000" stroke-width="1.25"/>
<line x1="700.6" y1="82.9" x2="700.6" y2="95.4" stroke="#000" stroke-width="1.25"/>
<line x1="716.7" y1="94.6" x2="716.7" y2="107.6" stroke="#000" stroke-width="1.25"/>
</g>
<g clip-path="url(#c10)">
<line x1="56.5" y1="177" x2="144.5" y2="175.7" stroke="#000" stroke-width="1.25" stroke-dasharray="3.9,1.7"/>
<path d="M49.1,204.5V223.4M47.7,204.5H50.5M47.7,223.4H50.5" stroke="#2a2a2a" stroke-width="1.45" fill="none"/>
<circle cx="66.6" cy="154" r="2.32" fill="#0000ff"/>
<circle cx="66.6" cy="163.7" r="2.32" fill="#0000ff"/>
<circle cx="66.6" cy="169.2" r="2.32" fill="#0000ff"/>
<circle cx="56.5" cy="175.4" r="2.32" fill="#0000ff"/>
<circle cx="66.6" cy="187.9" r="2.32" fill="#0000ff"/>
<circle cx="70.8" cy="182.7" r="2.32" fill="#0000ff"/>
<circle cx="70.8" cy="191.4" r="2.32" fill="#0000ff"/>
<circle cx="78.6" cy="186.3" r="2.32" fill="#0000ff"/>
<circle cx="78.6" cy="188" r="2.32" fill="#0000ff"/>
<circle cx="78.6" cy="200.8" r="2.32" fill="#0000ff"/>
<circle cx="85.8" cy="181.4" r="2.32" fill="#0000ff"/>
<circle cx="85.8" cy="183.7" r="2.32" fill="#0000ff"/>
<circle cx="85.8" cy="186" r="2.32" fill="#0000ff"/>
<circle cx="85.8" cy="193.8" r="2.32" fill="#0000ff"/>
<circle cx="91.5" cy="183.2" r="2.32" fill="#0000ff"/>
<circle cx="91.5" cy="191" r="2.32" fill="#0000ff"/>
<circle cx="102" cy="184.5" r="2.32" fill="#0000ff"/>
<circle cx="102" cy="196.9" r="2.32" fill="#0000ff"/>
<circle cx="102" cy="204" r="2.32" fill="#0000ff"/>
<path d="M58.90,170.05H64.10L61.50,174.55Z" fill="#0000ff"/>
<path d="M58.90,172.35H64.10L61.50,176.85Z" fill="#0000ff"/>
<path d="M60.10,179.35H65.30L62.70,183.85Z" fill="#0000ff"/>
<path d="M70.20,165.35H75.40L72.80,169.85Z" fill="#0000ff"/>
<path d="M72.60,166.15H77.80L75.20,170.65Z" fill="#0000ff"/>
<path d="M76.00,169.25H81.20L78.60,173.75Z" fill="#0000ff"/>
<path d="M76.00,175.45H81.20L78.60,179.95Z" fill="#0000ff"/>
<path d="M79.60,171.55H84.80L82.20,176.05Z" fill="#0000ff"/>
<path d="M86.30,155.95H91.50L88.90,160.45Z" fill="#0000ff"/>
<path d="M86.30,159.15H91.50L88.90,163.65Z" fill="#0000ff"/>
<path d="M86.30,162.25H91.50L88.90,166.75Z" fill="#0000ff"/>
<path d="M86.30,165.35H91.50L88.90,169.85Z" fill="#0000ff"/>
<path d="M86.30,171.55H91.50L88.90,176.05Z" fill="#0000ff"/>
<path d="M89.40,163.05H94.60L92.00,167.55Z" fill="#0000ff"/>
<path d="M89.40,166.15H94.60L92.00,170.65Z" fill="#0000ff"/>
<path d="M93.30,155.95H98.50L95.90,160.45Z" fill="#0000ff"/>
<path d="M93.30,175.45H98.50L95.90,179.95Z" fill="#0000ff"/>
<path d="M93.30,197.05H98.50L95.90,201.55Z" fill="#0000ff"/>
<path d="M95.20,162.25H100.40L97.80,166.75Z" fill="#0000ff"/>
<path d="M97.20,157.55H102.40L99.80,162.05Z" fill="#0000ff"/>
<path d="M97.20,176.25H102.40L99.80,180.75Z" fill="#0000ff"/>
<path d="M99.40,157.55H104.60L102.00,162.05Z" fill="#0000ff"/>
<path d="M99.40,166.95H104.60L102.00,171.45Z" fill="#0000ff"/>
<path d="M99.40,170.05H104.60L102.00,174.55Z" fill="#0000ff"/>
<path d="M99.40,173.15H104.60L102.00,177.65Z" fill="#0000ff"/>
<path d="M101.40,157.55H106.60L104.00,162.05Z" fill="#0000ff"/>
<path d="M104.50,157.55H109.70L107.10,162.05Z" fill="#0000ff"/>
<path d="M104.50,175.45H109.70L107.10,179.95Z" fill="#0000ff"/>
<path d="M107.60,155.25H112.80L110.20,159.75Z" fill="#0000ff"/>
<path d="M107.60,166.15H112.80L110.20,170.65Z" fill="#0000ff"/>
<path d="M107.60,176.25H112.80L110.20,180.75Z" fill="#0000ff"/>
<path d="M117.80,148.95H123.00L120.40,153.45Z" fill="#0000ff"/>
<path d="M117.80,163.05H123.00L120.40,167.55Z" fill="#0000ff"/>
<path d="M117.80,166.15H123.00L120.40,170.65Z" fill="#0000ff"/>
<path d="M120.10,171.55H125.30L122.70,176.05Z" fill="#0000ff"/>
<path d="M120.10,178.55H125.30L122.70,183.05Z" fill="#0000ff"/>
<path d="M120.10,219.65H125.30L122.70,224.15Z" fill="#0000ff"/>
<rect x="142.20" y="186.20" width="4.6" height="4.6" fill="#0000ff"/>
<circle cx="67.4" cy="172.3" r="2.32" fill="#ff0000"/>
<circle cx="68.2" cy="172.7" r="2.32" fill="#ff0000"/>
<circle cx="66.6" cy="194.6" r="2.32" fill="#ff0000"/>
<circle cx="70.2" cy="198.8" r="2.32" fill="#ff0000"/>
<path d="M59.80,155.95H65.00L62.40,160.45Z" fill="#ff0000"/>
<path d="M68.20,192.95H73.40L70.80,197.45Z" fill="#ff0000"/>
<circle cx="85.8" cy="196.6" r="2.32" fill="#000000"/>
<line x1="62.4" y1="158.2" x2="62.4" y2="180.8" stroke="#000" stroke-width="1.25"/>
<line x1="66.6" y1="154" x2="66.6" y2="194.9" stroke="#000" stroke-width="1.25"/>
<line x1="70.8" y1="182.7" x2="70.8" y2="191.4" stroke="#000" stroke-width="1.25"/>
<line x1="78.6" y1="171.5" x2="78.6" y2="200.8" stroke="#000" stroke-width="1.25"/>
<line x1="85.8" y1="181.4" x2="85.8" y2="196.6" stroke="#000" stroke-width="1.25"/>
<line x1="91.5" y1="183.2" x2="91.5" y2="191" stroke="#000" stroke-width="1.25"/>
<line x1="88.9" y1="158.2" x2="88.9" y2="173.8" stroke="#000" stroke-width="1.25"/>
<line x1="95.9" y1="158.2" x2="95.9" y2="199.3" stroke="#000" stroke-width="1.25"/>
<line x1="99.8" y1="159.8" x2="99.8" y2="178.5" stroke="#000" stroke-width="1.25"/>
<line x1="102" y1="159.8" x2="102" y2="204" stroke="#000" stroke-width="1.25"/>
<line x1="107.1" y1="159.8" x2="107.1" y2="177.7" stroke="#000" stroke-width="1.25"/>
<line x1="110.2" y1="157.5" x2="110.2" y2="178.5" stroke="#000" stroke-width="1.25"/>
<line x1="120.4" y1="151.2" x2="120.4" y2="168.4" stroke="#000" stroke-width="1.25"/>
<line x1="122.7" y1="173.8" x2="122.7" y2="221.9" stroke="#000" stroke-width="1.25"/>
</g>
<g clip-path="url(#c11)">
<line x1="162.9" y1="182.1" x2="263" y2="173.8" stroke="#000" stroke-width="1.25" stroke-dasharray="3.9,1.7"/>
<path d="M174.5,204.5V223.4M173.1,204.5H175.9M173.1,223.4H175.9" stroke="#2a2a2a" stroke-width="1.45" fill="none"/>
<circle cx="162.9" cy="184.6" r="2.32" fill="#0000ff"/>
<circle cx="162.9" cy="196.6" r="2.32" fill="#0000ff"/>
<circle cx="162.9" cy="204" r="2.32" fill="#0000ff"/>
<circle cx="185.8" cy="154" r="2.32" fill="#0000ff"/>
<circle cx="185.8" cy="163.7" r="2.32" fill="#0000ff"/>
<circle cx="185.8" cy="188" r="2.32" fill="#0000ff"/>
<circle cx="209.2" cy="182.6" r="2.32" fill="#0000ff"/>
<circle cx="209.2" cy="184.9" r="2.32" fill="#0000ff"/>
<circle cx="209.2" cy="187.2" r="2.32" fill="#0000ff"/>
<circle cx="209.2" cy="189.5" r="2.32" fill="#0000ff"/>
<circle cx="209.2" cy="191.8" r="2.32" fill="#0000ff"/>
<circle cx="209.2" cy="200.6" r="2.32" fill="#0000ff"/>
<circle cx="217" cy="193.2" r="2.32" fill="#0000ff"/>
<circle cx="217" cy="196.6" r="2.32" fill="#0000ff"/>
<circle cx="223.2" cy="172.3" r="2.32" fill="#0000ff"/>
<circle cx="233.7" cy="168.4" r="2.32" fill="#0000ff"/>
<circle cx="239.9" cy="185.9" r="2.32" fill="#0000ff"/>
<circle cx="244" cy="178.5" r="2.32" fill="#0000ff"/>
<circle cx="247.7" cy="183.4" r="2.32" fill="#0000ff"/>
<circle cx="247.7" cy="191.2" r="2.32" fill="#0000ff"/>
<circle cx="255.2" cy="170.7" r="2.32" fill="#0000ff"/>
<circle cx="255.2" cy="175.2" r="2.32" fill="#0000ff"/>
<circle cx="255.2" cy="181" r="2.32" fill="#0000ff"/>
<circle cx="255.2" cy="184.2" r="2.32" fill="#0000ff"/>
<circle cx="263" cy="174.9" r="2.32" fill="#0000ff"/>
<path d="M191.00,171.55H196.20L193.60,176.05Z" fill="#0000ff"/>
<path d="M191.00,179.85H196.20L193.60,184.35Z" fill="#0000ff"/>
<path d="M201.20,170.85H206.40L203.80,175.35Z" fill="#0000ff"/>
<path d="M201.20,174.75H206.40L203.80,179.25Z" fill="#0000ff"/>
<path d="M210.20,148.95H215.40L212.80,153.45Z" fill="#0000ff"/>
<path d="M210.20,163.05H215.40L212.80,167.55Z" fill="#0000ff"/>
<path d="M210.20,166.15H215.40L212.80,170.65Z" fill="#0000ff"/>
<path d="M213.30,163.05H218.50L215.90,167.55Z" fill="#0000ff"/>
<path d="M213.30,166.95H218.50L215.90,171.45Z" fill="#0000ff"/>
<path d="M217.50,155.95H222.70L220.10,160.45Z" fill="#0000ff"/>
<path d="M217.50,159.85H222.70L220.10,164.35Z" fill="#0000ff"/>
<path d="M217.50,170.85H222.70L220.10,175.35Z" fill="#0000ff"/>
<path d="M220.60,171.55H225.80L223.20,176.05Z" fill="#0000ff"/>
<path d="M222.70,155.95H227.90L225.30,160.45Z" fill="#0000ff"/>
<path d="M222.70,163.05H227.90L225.30,167.55Z" fill="#0000ff"/>
<path d="M222.70,176.25H227.90L225.30,180.75Z" fill="#0000ff"/>
<path d="M222.70,196.35H227.90L225.30,200.85Z" fill="#0000ff"/>
<path d="M225.30,163.05H230.50L227.90,167.55Z" fill="#0000ff"/>
<path d="M230.40,157.55H235.60L233.00,162.05Z" fill="#0000ff"/>
<path d="M230.40,162.25H235.60L233.00,166.75Z" fill="#0000ff"/>
<path d="M230.40,175.45H235.60L233.00,179.95Z" fill="#0000ff"/>
<path d="M237.80,157.55H243.00L240.40,162.05Z" fill="#0000ff"/>
<path d="M237.80,178.55H243.00L240.40,183.05Z" fill="#0000ff"/>
<path d="M239.80,157.55H245.00L242.40,162.05Z" fill="#0000ff"/>
<path d="M239.80,171.55H245.00L242.40,176.05Z" fill="#0000ff"/>
<path d="M239.80,219.35H245.00L242.40,223.85Z" fill="#0000ff"/>
<path d="M247.90,166.15H253.10L250.50,170.65Z" fill="#0000ff"/>
<path d="M257.30,155.25H262.50L259.90,159.75Z" fill="#0000ff"/>
<path d="M257.30,166.15H262.50L259.90,170.65Z" fill="#0000ff"/>
<path d="M257.30,176.45H262.50L259.90,180.95Z" fill="#0000ff"/>
<circle cx="185.8" cy="194.8" r="2.32" fill="#ff0000"/>
<circle cx="201.4" cy="172.3" r="2.32" fill="#ff0000"/>
<circle cx="232.1" cy="198.9" r="2.32" fill="#ff0000"/>
<path d="M181.20,193.45H186.40L183.80,197.95Z" fill="#ff0000"/>
<path d="M191.00,155.95H196.20L193.60,160.45Z" fill="#ff0000"/>
<path d="M224.80,170.05H230.00L227.40,174.55Z" fill="#ff0000"/>
<circle cx="255.2" cy="196.5" r="2.32" fill="#000000"/>
<line x1="162.9" y1="182.1" x2="162.9" y2="204" stroke="#000" stroke-width="1.25"/>
<line x1="185.8" y1="154" x2="185.8" y2="195" stroke="#000" stroke-width="1.25"/>
<line x1="193.6" y1="158.2" x2="193.6" y2="182.1" stroke="#000" stroke-width="1.25"/>
<line x1="209.2" y1="182.6" x2="209.2" y2="200.6" stroke="#000" stroke-width="1.25"/>
<line x1="212.8" y1="151.2" x2="212.8" y2="168.4" stroke="#000" stroke-width="1.25"/>
<line x1="220.1" y1="158.2" x2="220.1" y2="173.1" stroke="#000" stroke-width="1.25"/>
<line x1="225.3" y1="158.2" x2="225.3" y2="198.6" stroke="#000" stroke-width="1.25"/>
<line x1="233" y1="159.8" x2="233" y2="177.7" stroke="#000" stroke-width="1.25"/>
<line x1="240.4" y1="159.8" x2="240.4" y2="185.9" stroke="#000" stroke-width="1.25"/>
<line x1="242.4" y1="159.8" x2="242.4" y2="221.6" stroke="#000" stroke-width="1.25"/>
<line x1="247.7" y1="183.4" x2="247.7" y2="191.2" stroke="#000" stroke-width="1.25"/>
<line x1="255.2" y1="170.7" x2="255.2" y2="196.5" stroke="#000" stroke-width="1.25"/>
<line x1="259.9" y1="157.5" x2="259.9" y2="178.7" stroke="#000" stroke-width="1.25"/>
<line x1="217" y1="193.2" x2="217" y2="196.6" stroke="#000" stroke-width="1.25"/>
</g>
<g clip-path="url(#c12)">
<line x1="283.8" y1="173.1" x2="372" y2="184.6" stroke="#000" stroke-width="1.25" stroke-dasharray="3.9,1.7"/>
<path d="M279.6,204.5V223.4M278.20000000000005,204.5H281.0M278.20000000000005,223.4H281.0" stroke="#2a2a2a" stroke-width="1.45" fill="none"/>
<circle cx="302.5" cy="154" r="2.32" fill="#0000ff"/>
<circle cx="302.5" cy="163.7" r="2.32" fill="#0000ff"/>
<circle cx="302.5" cy="182.6" r="2.32" fill="#0000ff"/>
<circle cx="302.5" cy="185" r="2.32" fill="#0000ff"/>
<circle cx="302.5" cy="187.5" r="2.32" fill="#0000ff"/>
<circle cx="302.5" cy="189.9" r="2.32" fill="#0000ff"/>
<circle cx="302.5" cy="200.6" r="2.32" fill="#0000ff"/>
<circle cx="304.5" cy="168.4" r="2.32" fill="#0000ff"/>
<circle cx="308.4" cy="170.7" r="2.32" fill="#0000ff"/>
<circle cx="308.4" cy="180.7" r="2.32" fill="#0000ff"/>
<circle cx="308.4" cy="185.8" r="2.32" fill="#0000ff"/>
<circle cx="327.4" cy="181.8" r="2.32" fill="#0000ff"/>
<circle cx="327.4" cy="184.7" r="2.32" fill="#0000ff"/>
<circle cx="327.4" cy="193.5" r="2.32" fill="#0000ff"/>
<circle cx="340" cy="183.4" r="2.32" fill="#0000ff"/>
<circle cx="340" cy="186.3" r="2.32" fill="#0000ff"/>
<circle cx="340" cy="191.2" r="2.32" fill="#0000ff"/>
<circle cx="340" cy="196.6" r="2.32" fill="#0000ff"/>
<circle cx="340" cy="204" r="2.32" fill="#0000ff"/>
<path d="M281.20,170.05H286.40L283.80,174.55Z" fill="#0000ff"/>
<path d="M281.20,173.95H286.40L283.80,178.45Z" fill="#0000ff"/>
<path d="M281.20,176.25H286.40L283.80,180.75Z" fill="#0000ff"/>
<path d="M287.40,162.25H292.60L290.00,166.75Z" fill="#0000ff"/>
<path d="M287.40,166.15H292.60L290.00,170.65Z" fill="#0000ff"/>
<path d="M287.40,173.15H292.60L290.00,177.65Z" fill="#0000ff"/>
<path d="M287.40,180.15H292.60L290.00,184.65Z" fill="#0000ff"/>
<path d="M293.40,156.75H298.60L296.00,161.25Z" fill="#0000ff"/>
<path d="M293.40,159.85H298.60L296.00,164.35Z" fill="#0000ff"/>
<path d="M293.40,173.15H298.60L296.00,177.65Z" fill="#0000ff"/>
<path d="M305.80,159.15H311.00L308.40,163.65Z" fill="#0000ff"/>
<path d="M305.80,165.35H311.00L308.40,169.85Z" fill="#0000ff"/>
<path d="M312.80,156.75H318.00L315.40,161.25Z" fill="#0000ff"/>
<path d="M312.80,177.85H318.00L315.40,182.35Z" fill="#0000ff"/>
<path d="M312.80,196.35H318.00L315.40,200.85Z" fill="#0000ff"/>
<path d="M318.30,155.25H323.50L320.90,159.75Z" fill="#0000ff"/>
<path d="M318.30,157.55H323.50L320.90,162.05Z" fill="#0000ff"/>
<path d="M318.30,161.45H323.50L320.90,165.95Z" fill="#0000ff"/>
<path d="M318.30,164.55H323.50L320.90,169.05Z" fill="#0000ff"/>
<path d="M318.30,167.65H323.50L320.90,172.15Z" fill="#0000ff"/>
<path d="M318.30,170.85H323.50L320.90,175.35Z" fill="#0000ff"/>
<path d="M318.30,173.95H323.50L320.90,178.45Z" fill="#0000ff"/>
<path d="M318.30,177.85H323.50L320.90,182.35Z" fill="#0000ff"/>
<path d="M318.30,219.35H323.50L320.90,223.85Z" fill="#0000ff"/>
<path d="M337.40,148.95H342.60L340.00,153.45Z" fill="#0000ff"/>
<path d="M337.40,163.75H342.60L340.00,168.25Z" fill="#0000ff"/>
<path d="M337.40,166.15H342.60L340.00,170.65Z" fill="#0000ff"/>
<rect x="369.70" y="186.20" width="4.6" height="4.6" fill="#0000ff"/>
<circle cx="296" cy="172.3" r="2.32" fill="#ff0000"/>
<circle cx="296" cy="198.9" r="2.32" fill="#ff0000"/>
<circle cx="302.5" cy="194.6" r="2.32" fill="#ff0000"/>
<path d="M287.40,155.95H292.60L290.00,160.45Z" fill="#ff0000"/>
<path d="M287.40,170.05H292.60L290.00,174.55Z" fill="#ff0000"/>
<path d="M287.40,193.75H292.60L290.00,198.25Z" fill="#ff0000"/>
<circle cx="327.4" cy="196.5" r="2.32" fill="#000000"/>
<line x1="290" y1="158.2" x2="290" y2="182.4" stroke="#000" stroke-width="1.25"/>
<line x1="296" y1="159" x2="296" y2="175.4" stroke="#000" stroke-width="1.25"/>
<line x1="302.5" y1="154" x2="302.5" y2="200.6" stroke="#000" stroke-width="1.25"/>
<line x1="308.4" y1="161.4" x2="308.4" y2="180.7" stroke="#000" stroke-width="1.25"/>
<line x1="315.4" y1="159" x2="315.4" y2="198.6" stroke="#000" stroke-width="1.25"/>
<line x1="320.9" y1="157.5" x2="320.9" y2="221.6" stroke="#000" stroke-width="1.25"/>
<line x1="327.4" y1="181.8" x2="327.4" y2="196.5" stroke="#000" stroke-width="1.25"/>
<line x1="340" y1="151.2" x2="340" y2="168.4" stroke="#000" stroke-width="1.25"/>
<line x1="340" y1="183.4" x2="340" y2="204" stroke="#000" stroke-width="1.25"/>
</g>
<g clip-path="url(#c13)">
<line x1="396.8" y1="183.2" x2="489.2" y2="168.4" stroke="#000" stroke-width="1.25" stroke-dasharray="3.9,1.7"/>
<path d="M389.5,204.5V223.4M388.1,204.5H390.9M388.1,223.4H390.9" stroke="#2a2a2a" stroke-width="1.45" fill="none"/>
<circle cx="394.9" cy="182.5" r="2.32" fill="#0000ff"/>
<circle cx="396.8" cy="184.7" r="2.32" fill="#0000ff"/>
<circle cx="394.9" cy="191.6" r="2.32" fill="#0000ff"/>
<circle cx="396.8" cy="196.6" r="2.32" fill="#0000ff"/>
<circle cx="396.8" cy="204" r="2.32" fill="#0000ff"/>
<circle cx="423.3" cy="163.7" r="2.32" fill="#0000ff"/>
<circle cx="423.3" cy="165.3" r="2.32" fill="#0000ff"/>
<circle cx="423.3" cy="188.2" r="2.32" fill="#0000ff"/>
<circle cx="442.9" cy="184.9" r="2.32" fill="#0000ff"/>
<circle cx="442.9" cy="187.4" r="2.32" fill="#0000ff"/>
<circle cx="442.9" cy="192.1" r="2.32" fill="#0000ff"/>
<circle cx="442.9" cy="196.7" r="2.32" fill="#0000ff"/>
<circle cx="442.9" cy="200.9" r="2.32" fill="#0000ff"/>
<circle cx="449.9" cy="183.1" r="2.32" fill="#0000ff"/>
<circle cx="449.9" cy="191" r="2.32" fill="#0000ff"/>
<circle cx="453.4" cy="170.7" r="2.32" fill="#0000ff"/>
<circle cx="453.4" cy="173.8" r="2.32" fill="#0000ff"/>
<circle cx="453.4" cy="176.2" r="2.32" fill="#0000ff"/>
<circle cx="453.4" cy="178.5" r="2.32" fill="#0000ff"/>
<circle cx="458.8" cy="168.4" r="2.32" fill="#0000ff"/>
<circle cx="458.8" cy="181.8" r="2.32" fill="#0000ff"/>
<circle cx="458.8" cy="185" r="2.32" fill="#0000ff"/>
<circle cx="489.2" cy="175.3" r="2.32" fill="#0000ff"/>
<path d="M413.40,156.75H418.60L416.00,161.25Z" fill="#0000ff"/>
<path d="M413.40,169.25H418.60L416.00,173.75Z" fill="#0000ff"/>
<path d="M413.40,171.55H418.60L416.00,176.05Z" fill="#0000ff"/>
<path d="M413.40,175.45H418.60L416.00,179.95Z" fill="#0000ff"/>
<path d="M417.20,155.95H422.40L419.80,160.45Z" fill="#0000ff"/>
<path d="M417.20,176.25H422.40L419.80,180.75Z" fill="#0000ff"/>
<path d="M417.20,196.05H422.40L419.80,200.55Z" fill="#0000ff"/>
<path d="M420.70,148.95H425.90L423.30,153.45Z" fill="#0000ff"/>
<path d="M420.70,151.35H425.90L423.30,155.85Z" fill="#0000ff"/>
<path d="M424.30,174.75H429.50L426.90,179.25Z" fill="#0000ff"/>
<path d="M424.30,178.55H429.50L426.90,183.05Z" fill="#0000ff"/>
<path d="M424.30,219.35H429.50L426.90,223.85Z" fill="#0000ff"/>
<path d="M427.80,156.75H433.00L430.40,161.25Z" fill="#0000ff"/>
<path d="M427.80,175.45H433.00L430.40,179.95Z" fill="#0000ff"/>
<path d="M427.80,180.15H433.00L430.40,184.65Z" fill="#0000ff"/>
<path d="M435.20,157.55H440.40L437.80,162.05Z" fill="#0000ff"/>
<path d="M435.20,161.45H440.40L437.80,165.95Z" fill="#0000ff"/>
<path d="M435.20,166.15H440.40L437.80,170.65Z" fill="#0000ff"/>
<path d="M435.20,172.35H440.40L437.80,176.85Z" fill="#0000ff"/>
<path d="M435.20,175.45H440.40L437.80,179.95Z" fill="#0000ff"/>
<path d="M435.20,180.15H440.40L437.80,184.65Z" fill="#0000ff"/>
<path d="M440.30,155.95H445.50L442.90,160.45Z" fill="#0000ff"/>
<path d="M440.30,158.35H445.50L442.90,162.85Z" fill="#0000ff"/>
<path d="M440.30,163.05H445.50L442.90,167.55Z" fill="#0000ff"/>
<path d="M440.30,176.25H445.50L442.90,180.75Z" fill="#0000ff"/>
<path d="M440.30,178.55H445.50L442.90,183.05Z" fill="#0000ff"/>
<path d="M442.50,158.35H447.70L445.10,162.85Z" fill="#0000ff"/>
<path d="M442.50,163.75H447.70L445.10,168.25Z" fill="#0000ff"/>
<path d="M446.90,171.55H452.10L449.50,176.05Z" fill="#0000ff"/>
<path d="M452.80,170.05H458.00L455.40,174.55Z" fill="#0000ff"/>
<path d="M459.80,155.95H465.00L462.40,160.45Z" fill="#0000ff"/>
<path d="M459.80,163.05H465.00L462.40,167.55Z" fill="#0000ff"/>
<path d="M459.80,171.55H465.00L462.40,176.05Z" fill="#0000ff"/>
<path d="M463.20,159.15H468.40L465.80,163.65Z" fill="#0000ff"/>
<path d="M463.20,166.15H468.40L465.80,170.65Z" fill="#0000ff"/>
<circle cx="407.4" cy="198.9" r="2.32" fill="#ff0000"/>
<circle cx="423.3" cy="194.8" r="2.32" fill="#ff0000"/>
<circle cx="428.7" cy="172.3" r="2.32" fill="#ff0000"/>
<path d="M436.70,155.25H441.90L439.30,159.75Z" fill="#ff0000"/>
<path d="M436.70,193.65H441.90L439.30,198.15Z" fill="#ff0000"/>
<path d="M441.90,170.05H447.10L444.50,174.55Z" fill="#ff0000"/>
<circle cx="458.8" cy="196.5" r="2.32" fill="#000000"/>
<line x1="396" y1="182.4" x2="396" y2="204" stroke="#000" stroke-width="1.25"/>
<line x1="416" y1="159" x2="416" y2="177.7" stroke="#000" stroke-width="1.25"/>
<line x1="419.8" y1="158.2" x2="419.8" y2="198.3" stroke="#000" stroke-width="1.25"/>
<line x1="423.3" y1="151.2" x2="423.3" y2="194.8" stroke="#000" stroke-width="1.25"/>
<line x1="426.9" y1="177" x2="426.9" y2="221.6" stroke="#000" stroke-width="1.25"/>
<line x1="430.4" y1="159" x2="430.4" y2="182.4" stroke="#000" stroke-width="1.25"/>
<line x1="437.8" y1="159.8" x2="437.8" y2="182.4" stroke="#000" stroke-width="1.25"/>
<line x1="442.9" y1="158.2" x2="442.9" y2="200.9" stroke="#000" stroke-width="1.25"/>
<line x1="449.9" y1="183.1" x2="449.9" y2="191" stroke="#000" stroke-width="1.25"/>
<line x1="458.8" y1="181.8" x2="458.8" y2="196.5" stroke="#000" stroke-width="1.25"/>
<line x1="462.4" y1="158.2" x2="462.4" y2="173.8" stroke="#000" stroke-width="1.25"/>
<line x1="465.8" y1="161.4" x2="465.8" y2="168.4" stroke="#000" stroke-width="1.25"/>
</g>
<g clip-path="url(#c14)">
<line x1="509.7" y1="184" x2="595.9" y2="169.2" stroke="#000" stroke-width="1.25" stroke-dasharray="3.9,1.7"/>
<path d="M503.8,204.5V223.4M502.40000000000003,204.5H505.2M502.40000000000003,223.4H505.2" stroke="#2a2a2a" stroke-width="1.45" fill="none"/>
<circle cx="523.7" cy="184.6" r="2.32" fill="#0000ff"/>
<circle cx="523.7" cy="196.6" r="2.32" fill="#0000ff"/>
<circle cx="523.7" cy="204" r="2.32" fill="#0000ff"/>
<circle cx="537" cy="183.2" r="2.32" fill="#0000ff"/>
<circle cx="537" cy="191" r="2.32" fill="#0000ff"/>
<circle cx="548.7" cy="154" r="2.32" fill="#0000ff"/>
<circle cx="546.3" cy="168.4" r="2.32" fill="#0000ff"/>
<circle cx="546.3" cy="173.1" r="2.32" fill="#0000ff"/>
<circle cx="546.3" cy="177.7" r="2.32" fill="#0000ff"/>
<circle cx="546.3" cy="182.4" r="2.32" fill="#0000ff"/>
<circle cx="546.3" cy="185.5" r="2.32" fill="#0000ff"/>
<circle cx="544.4" cy="193.2" r="2.32" fill="#0000ff"/>
<circle cx="549.4" cy="187.6" r="2.32" fill="#0000ff"/>
<circle cx="549.4" cy="200.8" r="2.32" fill="#0000ff"/>
<circle cx="556.9" cy="180.8" r="2.32" fill="#0000ff"/>
<circle cx="556.9" cy="185.8" r="2.32" fill="#0000ff"/>
<circle cx="558.5" cy="181.4" r="2.32" fill="#0000ff"/>
<circle cx="558.5" cy="185.6" r="2.32" fill="#0000ff"/>
<circle cx="562.2" cy="168.4" r="2.32" fill="#0000ff"/>
<circle cx="562.2" cy="182.6" r="2.32" fill="#0000ff"/>
<circle cx="562.2" cy="191.4" r="2.32" fill="#0000ff"/>
<circle cx="566.6" cy="170.7" r="2.32" fill="#0000ff"/>
<circle cx="566.6" cy="173.1" r="2.32" fill="#0000ff"/>
<circle cx="595.9" cy="175.3" r="2.32" fill="#0000ff"/>
<path d="M511.00,148.95H516.20L513.60,153.45Z" fill="#0000ff"/>
<path d="M511.00,163.75H516.20L513.60,168.25Z" fill="#0000ff"/>
<path d="M511.00,166.15H516.20L513.60,170.65Z" fill="#0000ff"/>
<path d="M543.70,157.55H548.90L546.30,162.05Z" fill="#0000ff"/>
<path d="M546.10,157.55H551.30L548.70,162.05Z" fill="#0000ff"/>
<path d="M549.20,156.75H554.40L551.80,161.25Z" fill="#0000ff"/>
<path d="M542.20,162.25H547.40L544.80,166.75Z" fill="#0000ff"/>
<path d="M544.50,163.05H549.70L547.10,167.55Z" fill="#0000ff"/>
<path d="M549.20,163.05H554.40L551.80,167.55Z" fill="#0000ff"/>
<path d="M549.20,177.05H554.40L551.80,181.55Z" fill="#0000ff"/>
<path d="M549.20,194.55H554.40L551.80,199.05Z" fill="#0000ff"/>
<path d="M547.60,198.05H552.80L550.20,202.55Z" fill="#0000ff"/>
<path d="M543.70,219.35H548.90L546.30,223.85Z" fill="#0000ff"/>
<path d="M554.30,162.25H559.50L556.90,166.75Z" fill="#0000ff"/>
<path d="M554.30,166.15H559.50L556.90,170.65Z" fill="#0000ff"/>
<path d="M554.30,171.55H559.50L556.90,176.05Z" fill="#0000ff"/>
<path d="M554.30,173.95H559.50L556.90,178.45Z" fill="#0000ff"/>
<path d="M561.60,159.15H566.80L564.20,163.65Z" fill="#0000ff"/>
<path d="M561.60,163.05H566.80L564.20,167.55Z" fill="#0000ff"/>
<path d="M561.60,166.15H566.80L564.20,170.65Z" fill="#0000ff"/>
<path d="M566.30,155.95H571.50L568.90,160.45Z" fill="#0000ff"/>
<path d="M566.30,161.45H571.50L568.90,165.95Z" fill="#0000ff"/>
<path d="M566.30,171.55H571.50L568.90,176.05Z" fill="#0000ff"/>
<path d="M571.00,163.05H576.20L573.60,167.55Z" fill="#0000ff"/>
<path d="M571.60,174.55H576.80L574.20,179.05Z" fill="#0000ff"/>
<path d="M576.80,170.05H582.00L579.40,174.55Z" fill="#0000ff"/>
<path d="M576.80,175.65H582.00L579.40,180.15Z" fill="#0000ff"/>
<rect x="507.40" y="186.20" width="4.6" height="4.6" fill="#0000ff"/>
<circle cx="549.9" cy="172.3" r="2.32" fill="#ff0000"/>
<circle cx="549.4" cy="195.1" r="2.32" fill="#ff0000"/>
<circle cx="572.5" cy="198.9" r="2.32" fill="#ff0000"/>
<path d="M546.80,193.45H552.00L549.40,197.95Z" fill="#ff0000"/>
<path d="M554.30,155.95H559.50L556.90,160.45Z" fill="#ff0000"/>
<path d="M571.00,170.05H576.20L573.60,174.55Z" fill="#ff0000"/>
<circle cx="546.3" cy="196.5" r="2.32" fill="#000000"/>
<line x1="513.6" y1="151.2" x2="513.6" y2="168.4" stroke="#000" stroke-width="1.25"/>
<line x1="523.7" y1="182" x2="523.7" y2="204" stroke="#000" stroke-width="1.25"/>
<line x1="537" y1="183.2" x2="537" y2="191" stroke="#000" stroke-width="1.25"/>
<line x1="546.3" y1="159.8" x2="546.3" y2="221.6" stroke="#000" stroke-width="1.25"/>
<line x1="548.7" y1="154" x2="548.7" y2="196" stroke="#000" stroke-width="1.25"/>
<line x1="551.8" y1="159" x2="551.8" y2="200" stroke="#000" stroke-width="1.25"/>
<line x1="556.9" y1="158.2" x2="556.9" y2="180.8" stroke="#000" stroke-width="1.25"/>
<line x1="562.2" y1="168.4" x2="562.2" y2="191.4" stroke="#000" stroke-width="1.25"/>
<line x1="568.9" y1="158.2" x2="568.9" y2="173.8" stroke="#000" stroke-width="1.25"/>
<line x1="579.4" y1="172.3" x2="579.4" y2="177.9" stroke="#000" stroke-width="1.25"/>
</g>
<g clip-path="url(#c15)">
<line x1="618.8" y1="179.3" x2="724" y2="174.2" stroke="#000" stroke-width="1.25" stroke-dasharray="3.9,1.7"/>
<path d="M618.5,204.5V223.4M617.1,204.5H619.9M617.1,223.4H619.9" stroke="#2a2a2a" stroke-width="1.45" fill="none"/>
<circle cx="646.1" cy="154" r="2.32" fill="#0000ff"/>
<circle cx="646.1" cy="163.7" r="2.32" fill="#0000ff"/>
<circle cx="646.1" cy="165.3" r="2.32" fill="#0000ff"/>
<circle cx="646.1" cy="167.6" r="2.32" fill="#0000ff"/>
<circle cx="646.1" cy="188.1" r="2.32" fill="#0000ff"/>
<circle cx="649.7" cy="185.6" r="2.32" fill="#0000ff"/>
<circle cx="649.7" cy="187.8" r="2.32" fill="#0000ff"/>
<circle cx="649.7" cy="191.8" r="2.32" fill="#0000ff"/>
<circle cx="649.7" cy="196.6" r="2.32" fill="#0000ff"/>
<circle cx="649.7" cy="200.5" r="2.32" fill="#0000ff"/>
<circle cx="673.3" cy="184.6" r="2.32" fill="#0000ff"/>
<circle cx="673.3" cy="196.6" r="2.32" fill="#0000ff"/>
<circle cx="673.3" cy="204" r="2.32" fill="#0000ff"/>
<circle cx="681.1" cy="182.6" r="2.32" fill="#0000ff"/>
<circle cx="681.1" cy="191.6" r="2.32" fill="#0000ff"/>
<circle cx="685.5" cy="170.7" r="2.32" fill="#0000ff"/>
<circle cx="685.5" cy="180.8" r="2.32" fill="#0000ff"/>
<circle cx="687.4" cy="185.9" r="2.32" fill="#0000ff"/>
<circle cx="701.3" cy="182.2" r="2.32" fill="#0000ff"/>
<circle cx="701.3" cy="185.5" r="2.32" fill="#0000ff"/>
<circle cx="708" cy="183.4" r="2.32" fill="#0000ff"/>
<circle cx="708" cy="191" r="2.32" fill="#0000ff"/>
<path d="M635.20,171.55H640.40L637.80,176.05Z" fill="#0000ff"/>
<path d="M635.20,180.15H640.40L637.80,184.65Z" fill="#0000ff"/>
<path d="M643.50,148.95H648.70L646.10,153.45Z" fill="#0000ff"/>
<path d="M643.50,151.35H648.70L646.10,155.85Z" fill="#0000ff"/>
<path d="M656.40,163.05H661.60L659.00,167.55Z" fill="#0000ff"/>
<path d="M656.40,166.95H661.60L659.00,171.45Z" fill="#0000ff"/>
<path d="M658.60,171.55H663.80L661.20,176.05Z" fill="#0000ff"/>
<path d="M663.70,170.85H668.90L666.30,175.35Z" fill="#0000ff"/>
<path d="M663.70,175.45H668.90L666.30,179.95Z" fill="#0000ff"/>
<path d="M669.20,166.15H674.40L671.80,170.65Z" fill="#0000ff"/>
<path d="M677.00,155.95H682.20L679.60,160.45Z" fill="#0000ff"/>
<path d="M679.30,155.95H684.50L681.90,160.45Z" fill="#0000ff"/>
<path d="M680.90,155.95H686.10L683.50,160.45Z" fill="#0000ff"/>
<path d="M677.00,163.05H682.20L679.60,167.55Z" fill="#0000ff"/>
<path d="M677.80,175.45H683.00L680.40,179.95Z" fill="#0000ff"/>
<path d="M680.90,196.25H686.10L683.50,200.75Z" fill="#0000ff"/>
<path d="M680.90,219.35H686.10L683.50,223.85Z" fill="#0000ff"/>
<path d="M684.80,157.55H690.00L687.40,162.05Z" fill="#0000ff"/>
<path d="M684.80,171.55H690.00L687.40,176.05Z" fill="#0000ff"/>
<path d="M692.60,157.55H697.80L695.20,162.05Z" fill="#0000ff"/>
<path d="M694.90,157.55H700.10L697.50,162.05Z" fill="#0000ff"/>
<path d="M698.00,157.55H703.20L700.60,162.05Z" fill="#0000ff"/>
<path d="M693.40,173.95H698.60L696.00,178.45Z" fill="#0000ff"/>
<path d="M694.90,179.35H700.10L697.50,183.85Z" fill="#0000ff"/>
<path d="M698.00,173.15H703.20L700.60,177.65Z" fill="#0000ff"/>
<path d="M707.70,166.15H712.90L710.30,170.65Z" fill="#0000ff"/>
<path d="M714.10,155.25H719.30L716.70,159.75Z" fill="#0000ff"/>
<path d="M714.10,166.15H719.30L716.70,170.65Z" fill="#0000ff"/>
<path d="M714.10,176.15H719.30L716.70,180.65Z" fill="#0000ff"/>
<rect x="711.60" y="186.20" width="4.6" height="4.6" fill="#0000ff"/>
<circle cx="635.2" cy="172.3" r="2.32" fill="#ff0000"/>
<circle cx="646.1" cy="194.6" r="2.32" fill="#ff0000"/>
<circle cx="690.5" cy="198.9" r="2.32" fill="#ff0000"/>
<path d="M615.90,193.75H621.10L618.50,198.25Z" fill="#ff0000"/>
<path d="M635.20,155.95H640.40L637.80,160.45Z" fill="#ff0000"/>
<path d="M676.50,170.05H681.70L679.10,174.55Z" fill="#ff0000"/>
<circle cx="701.1" cy="196.5" r="2.32" fill="#000000"/>
<line x1="637.8" y1="158.2" x2="637.8" y2="182.4" stroke="#000" stroke-width="1.25"/>
<line x1="646.1" y1="151.2" x2="646.1" y2="194.6" stroke="#000" stroke-width="1.25"/>
<line x1="649.7" y1="185.6" x2="649.7" y2="200.5" stroke="#000" stroke-width="1.25"/>
<line x1="673.3" y1="182.5" x2="673.3" y2="204" stroke="#000" stroke-width="1.25"/>
<line x1="683.5" y1="158.2" x2="683.5" y2="221.6" stroke="#000" stroke-width="1.25"/>
<line x1="681.1" y1="182.6" x2="681.1" y2="191.6" stroke="#000" stroke-width="1.25"/>
<line x1="687.4" y1="159.8" x2="687.4" y2="185.9" stroke="#000" stroke-width="1.25"/>
<line x1="695.2" y1="159.8" x2="695.2" y2="176.2" stroke="#000" stroke-width="1.25"/>
<line x1="697.5" y1="159.8" x2="697.5" y2="181.6" stroke="#000" stroke-width="1.25"/>
<line x1="701.1" y1="159.8" x2="701.1" y2="196.5" stroke="#000" stroke-width="1.25"/>
<line x1="708" y1="183.4" x2="708" y2="191" stroke="#000" stroke-width="1.25"/>
<line x1="716.7" y1="157.5" x2="716.7" y2="178.4" stroke="#000" stroke-width="1.25"/>
</g>
<g clip-path="url(#c20)">
<line x1="56.5" y1="296" x2="143.8" y2="314.6" stroke="#000" stroke-width="1.25" stroke-dasharray="3.9,1.7"/>
<path d="M49.1,309.2V338.3M47.7,309.2H50.5M47.7,338.3H50.5" stroke="#2a2a2a" stroke-width="1.45" fill="none"/>
<circle cx="102" cy="258.1" r="2.32" fill="#0000ff"/>
<circle cx="102" cy="270.2" r="2.32" fill="#0000ff"/>
<circle cx="56.5" cy="280.8" r="2.32" fill="#0000ff"/>
<circle cx="74.9" cy="278.6" r="2.32" fill="#0000ff"/>
<circle cx="91.5" cy="274.4" r="2.32" fill="#0000ff"/>
<circle cx="66.6" cy="304.6" r="2.32" fill="#0000ff"/>
<circle cx="66.6" cy="309.3" r="2.32" fill="#0000ff"/>
<circle cx="70.8" cy="305.4" r="2.32" fill="#0000ff"/>
<circle cx="70.8" cy="325.8" r="2.32" fill="#0000ff"/>
<circle cx="79.1" cy="301.5" r="2.32" fill="#0000ff"/>
<circle cx="79.1" cy="304.6" r="2.32" fill="#0000ff"/>
<circle cx="78.6" cy="324.6" r="2.32" fill="#0000ff"/>
<circle cx="82.2" cy="291.4" r="2.32" fill="#0000ff"/>
<circle cx="82.2" cy="293.7" r="2.32" fill="#0000ff"/>
<circle cx="85.3" cy="291.4" r="2.32" fill="#0000ff"/>
<circle cx="86.1" cy="293" r="2.32" fill="#0000ff"/>
<circle cx="88" cy="290.5" r="2.32" fill="#0000ff"/>
<circle cx="85.3" cy="306.2" r="2.32" fill="#0000ff"/>
<circle cx="85.3" cy="308.5" r="2.32" fill="#0000ff"/>
<circle cx="85.3" cy="311.6" r="2.32" fill="#0000ff"/>
<circle cx="102" cy="292.9" r="2.32" fill="#0000ff"/>
<circle cx="102" cy="304.6" r="2.32" fill="#0000ff"/>
<circle cx="100.1" cy="329.7" r="2.32" fill="#0000ff"/>
<circle cx="102" cy="331.8" r="2.32" fill="#0000ff"/>
<path d="M76.50,276.95H81.70L79.10,281.45Z" fill="#0000ff"/>
<path d="M97.50,276.35H102.70L100.10,280.85Z" fill="#0000ff"/>
<path d="M107.60,279.05H112.80L110.20,283.55Z" fill="#0000ff"/>
<path d="M120.10,277.35H125.30L122.70,281.85Z" fill="#0000ff"/>
<path d="M63.50,283.65H68.70L66.10,288.15Z" fill="#0000ff"/>
<path d="M63.50,285.95H68.70L66.10,290.45Z" fill="#0000ff"/>
<path d="M64.00,294.55H69.20L66.60,299.05Z" fill="#0000ff"/>
<path d="M58.90,289.15H64.10L61.50,293.65Z" fill="#0000ff"/>
<path d="M58.90,292.25H64.10L61.50,296.75Z" fill="#0000ff"/>
<path d="M58.90,296.15H64.10L61.50,300.65Z" fill="#0000ff"/>
<path d="M58.90,305.45H64.10L61.50,309.95Z" fill="#0000ff"/>
<path d="M68.20,306.25H73.40L70.80,310.75Z" fill="#0000ff"/>
<path d="M69.80,306.25H75.00L72.40,310.75Z" fill="#0000ff"/>
<path d="M79.60,287.55H84.80L82.20,292.05Z" fill="#0000ff"/>
<path d="M79.60,289.85H84.80L82.20,294.35Z" fill="#0000ff"/>
<path d="M79.60,293.05H84.80L82.20,297.55Z" fill="#0000ff"/>
<path d="M85.00,288.35H90.20L87.60,292.85Z" fill="#0000ff"/>
<path d="M85.00,308.55H90.20L87.60,313.05Z" fill="#0000ff"/>
<path d="M85.00,310.95H90.20L87.60,315.45Z" fill="#0000ff"/>
<path d="M86.60,288.35H91.80L89.20,292.85Z" fill="#0000ff"/>
<path d="M88.90,284.45H94.10L91.50,288.95Z" fill="#0000ff"/>
<path d="M88.90,297.65H94.10L91.50,302.15Z" fill="#0000ff"/>
<path d="M92.80,303.95H98.00L95.40,308.45Z" fill="#0000ff"/>
<path d="M92.80,314.95H98.00L95.40,319.45Z" fill="#0000ff"/>
<path d="M92.80,337.65H98.00L95.40,342.15Z" fill="#0000ff"/>
<path d="M95.20,296.15H100.40L97.80,300.65Z" fill="#0000ff"/>
<path d="M95.20,298.45H100.40L97.80,302.95Z" fill="#0000ff"/>
<path d="M97.50,296.15H102.70L100.10,300.65Z" fill="#0000ff"/>
<path d="M99.40,299.25H104.60L102.00,303.75Z" fill="#0000ff"/>
<path d="M99.40,303.15H104.60L102.00,307.65Z" fill="#0000ff"/>
<path d="M99.40,316.35H104.60L102.00,320.85Z" fill="#0000ff"/>
<path d="M99.40,319.55H104.60L102.00,324.05Z" fill="#0000ff"/>
<path d="M100.60,300.05H105.80L103.20,304.55Z" fill="#0000ff"/>
<path d="M100.60,303.95H105.80L103.20,308.45Z" fill="#0000ff"/>
<path d="M100.60,315.05H105.80L103.20,319.55Z" fill="#0000ff"/>
<path d="M100.60,318.15H105.80L103.20,322.65Z" fill="#0000ff"/>
<path d="M104.50,303.95H109.70L107.10,308.45Z" fill="#0000ff"/>
<path d="M104.50,324.25H109.70L107.10,328.75Z" fill="#0000ff"/>
<path d="M107.60,305.45H112.80L110.20,309.95Z" fill="#0000ff"/>
<path d="M107.60,315.65H112.80L110.20,320.15Z" fill="#0000ff"/>
<path d="M117.80,294.55H123.00L120.40,299.05Z" fill="#0000ff"/>
<path d="M117.80,321.15H123.00L120.40,325.65Z" fill="#0000ff"/>
<path d="M117.80,330.65H123.00L120.40,335.15Z" fill="#0000ff"/>
<path d="M120.10,296.95H125.30L122.70,301.45Z" fill="#0000ff"/>
<path d="M120.10,327.45H125.30L122.70,331.95Z" fill="#0000ff"/>
<rect x="142.20" y="302.50" width="4.6" height="4.6" fill="#0000ff"/>
<circle cx="67.4" cy="235.9" r="2.32" fill="#ff0000"/>
<circle cx="66.6" cy="332.4" r="2.32" fill="#ff0000"/>
<circle cx="69.7" cy="331.8" r="2.32" fill="#ff0000"/>
<path d="M63.50,269.85H68.70L66.10,274.35Z" fill="#ff0000"/>
<path d="M68.20,280.35H73.40L70.80,284.85Z" fill="#ff0000"/>
<path d="M59.80,326.25H65.00L62.40,330.75Z" fill="#ff0000"/>
<circle cx="85.3" cy="325.1" r="2.32" fill="#000000"/>
<line x1="66.1" y1="272.1" x2="66.1" y2="332" stroke="#000" stroke-width="1.25"/>
<line x1="61.5" y1="291.4" x2="61.5" y2="328.5" stroke="#000" stroke-width="1.25"/>
<line x1="70.8" y1="305.4" x2="70.8" y2="325.8" stroke="#000" stroke-width="1.25"/>
<line x1="79.1" y1="279.2" x2="79.1" y2="324.6" stroke="#000" stroke-width="1.25"/>
<line x1="85.3" y1="302" x2="85.3" y2="325.1" stroke="#000" stroke-width="1.25"/>
<line x1="91.5" y1="274.4" x2="91.5" y2="302" stroke="#000" stroke-width="1.25"/>
<line x1="95.4" y1="306.2" x2="95.4" y2="339.9" stroke="#000" stroke-width="1.25"/>
<line x1="100.1" y1="278.6" x2="100.1" y2="332" stroke="#000" stroke-width="1.25"/>
<line x1="102" y1="258.1" x2="102" y2="332" stroke="#000" stroke-width="1.25"/>
<line x1="107.1" y1="306.2" x2="107.1" y2="326.5" stroke="#000" stroke-width="1.25"/>
<line x1="110.2" y1="281.3" x2="110.2" y2="317.9" stroke="#000" stroke-width="1.25"/>
<line x1="120.4" y1="296.8" x2="120.4" y2="332.9" stroke="#000" stroke-width="1.25"/>
<line x1="122.7" y1="279.6" x2="122.7" y2="329.7" stroke="#000" stroke-width="1.25"/>
</g>
<g clip-path="url(#c21)">
<line x1="162.9" y1="304.9" x2="263" y2="301.8" stroke="#000" stroke-width="1.25" stroke-dasharray="3.9,1.7"/>
<path d="M174.5,309.2V338.3M173.1,309.2H175.9M173.1,338.3H175.9" stroke="#2a2a2a" stroke-width="1.45" fill="none"/>
<circle cx="162.9" cy="258.1" r="2.32" fill="#0000ff"/>
<circle cx="162.9" cy="331.8" r="2.32" fill="#0000ff"/>
<circle cx="185.8" cy="287.2" r="2.32" fill="#0000ff"/>
<circle cx="185.8" cy="303.8" r="2.32" fill="#0000ff"/>
<circle cx="185.8" cy="309.3" r="2.32" fill="#0000ff"/>
<circle cx="209.2" cy="302.3" r="2.32" fill="#0000ff"/>
<circle cx="209.2" cy="304" r="2.32" fill="#0000ff"/>
<circle cx="209.2" cy="306.2" r="2.32" fill="#0000ff"/>
<circle cx="209.2" cy="325" r="2.32" fill="#0000ff"/>
<circle cx="216.2" cy="292.1" r="2.32" fill="#0000ff"/>
<circle cx="216.2" cy="293.7" r="2.32" fill="#0000ff"/>
<circle cx="233.4" cy="279" r="2.32" fill="#0000ff"/>
<circle cx="239.6" cy="311.6" r="2.32" fill="#0000ff"/>
<circle cx="247.7" cy="274.4" r="2.32" fill="#0000ff"/>
<circle cx="255.5" cy="270.2" r="2.32" fill="#0000ff"/>
<circle cx="255.5" cy="280.8" r="2.32" fill="#0000ff"/>
<circle cx="255.2" cy="292.9" r="2.32" fill="#0000ff"/>
<circle cx="255.2" cy="303.1" r="2.32" fill="#0000ff"/>
<circle cx="255.2" cy="307.7" r="2.32" fill="#0000ff"/>
<circle cx="263" cy="292.1" r="2.32" fill="#0000ff"/>
<circle cx="263" cy="294.5" r="2.32" fill="#0000ff"/>
<path d="M191.00,291.45H196.20L193.60,295.95Z" fill="#0000ff"/>
<path d="M191.00,304.75H196.20L193.60,309.25Z" fill="#0000ff"/>
<path d="M200.80,289.15H206.00L203.40,293.65Z" fill="#0000ff"/>
<path d="M200.80,293.05H206.00L203.40,297.55Z" fill="#0000ff"/>
<path d="M200.80,296.15H206.00L203.40,300.65Z" fill="#0000ff"/>
<path d="M210.20,294.55H215.40L212.80,299.05Z" fill="#0000ff"/>
<path d="M210.20,306.25H215.40L212.80,310.75Z" fill="#0000ff"/>
<path d="M210.20,320.45H215.40L212.80,324.95Z" fill="#0000ff"/>
<path d="M210.20,330.65H215.40L212.80,335.15Z" fill="#0000ff"/>
<path d="M213.30,283.65H218.50L215.90,288.15Z" fill="#0000ff"/>
<path d="M213.30,286.75H218.50L215.90,291.25Z" fill="#0000ff"/>
<path d="M213.30,292.25H218.50L215.90,296.75Z" fill="#0000ff"/>
<path d="M213.30,297.65H218.50L215.90,302.15Z" fill="#0000ff"/>
<path d="M216.70,288.35H221.90L219.30,292.85Z" fill="#0000ff"/>
<path d="M216.70,300.85H221.90L219.30,305.35Z" fill="#0000ff"/>
<path d="M216.70,308.55H221.90L219.30,313.05Z" fill="#0000ff"/>
<path d="M220.20,277.45H225.40L222.80,281.95Z" fill="#0000ff"/>
<path d="M220.20,286.75H225.40L222.80,291.25Z" fill="#0000ff"/>
<path d="M220.20,297.65H225.40L222.80,302.15Z" fill="#0000ff"/>
<path d="M223.00,303.95H228.20L225.60,308.45Z" fill="#0000ff"/>
<path d="M223.00,314.85H228.20L225.60,319.35Z" fill="#0000ff"/>
<path d="M223.00,337.65H228.20L225.60,342.15Z" fill="#0000ff"/>
<path d="M224.80,283.65H230.00L227.40,288.15Z" fill="#0000ff"/>
<path d="M224.80,286.75H230.00L227.40,291.25Z" fill="#0000ff"/>
<path d="M224.80,294.55H230.00L227.40,299.05Z" fill="#0000ff"/>
<path d="M230.40,299.25H235.60L233.00,303.75Z" fill="#0000ff"/>
<path d="M230.40,310.25H235.60L233.00,314.75Z" fill="#0000ff"/>
<path d="M230.40,315.05H235.60L233.00,319.55Z" fill="#0000ff"/>
<path d="M230.40,319.75H235.60L233.00,324.25Z" fill="#0000ff"/>
<path d="M237.00,275.95H242.20L239.60,280.45Z" fill="#0000ff"/>
<path d="M237.00,294.55H242.20L239.60,299.05Z" fill="#0000ff"/>
<path d="M237.00,297.65H242.20L239.60,302.15Z" fill="#0000ff"/>
<path d="M237.00,326.25H242.20L239.60,330.75Z" fill="#0000ff"/>
<path d="M239.80,277.45H245.00L242.40,281.95Z" fill="#0000ff"/>
<path d="M239.80,296.15H245.00L242.40,300.65Z" fill="#0000ff"/>
<path d="M239.80,300.05H245.00L242.40,304.55Z" fill="#0000ff"/>
<path d="M239.80,303.15H245.00L242.40,307.65Z" fill="#0000ff"/>
<path d="M239.80,324.15H245.00L242.40,328.65Z" fill="#0000ff"/>
<path d="M239.80,328.35H245.00L242.40,332.85Z" fill="#0000ff"/>
<path d="M238.60,329.05H243.80L241.20,333.55Z" fill="#0000ff"/>
<path d="M245.10,298.45H250.30L247.70,302.95Z" fill="#0000ff"/>
<path d="M247.90,299.25H253.10L250.50,303.75Z" fill="#0000ff"/>
<path d="M257.30,279.55H262.50L259.90,284.05Z" fill="#0000ff"/>
<path d="M257.30,306.25H262.50L259.90,310.75Z" fill="#0000ff"/>
<path d="M257.30,315.75H262.50L259.90,320.25Z" fill="#0000ff"/>
<path d="M241.40,272.75H246.60L244.00,277.25Z" fill="#0000ff"/>
<circle cx="201.4" cy="235.9" r="2.32" fill="#ff0000"/>
<circle cx="185.8" cy="332.2" r="2.32" fill="#ff0000"/>
<circle cx="232.1" cy="331.3" r="2.32" fill="#ff0000"/>
<path d="M180.90,280.35H186.10L183.50,284.85Z" fill="#ff0000"/>
<path d="M191.00,326.45H196.20L193.60,330.95Z" fill="#ff0000"/>
<path d="M224.80,269.85H230.00L227.40,274.35Z" fill="#ff0000"/>
<circle cx="255.2" cy="325.1" r="2.32" fill="#000000"/>
<line x1="162.9" y1="258.1" x2="162.9" y2="331.8" stroke="#000" stroke-width="1.25"/>
<line x1="185.8" y1="287.2" x2="185.8" y2="332.2" stroke="#000" stroke-width="1.25"/>
<line x1="193.6" y1="293.7" x2="193.6" y2="328.7" stroke="#000" stroke-width="1.25"/>
<line x1="209.2" y1="302.3" x2="209.2" y2="325" stroke="#000" stroke-width="1.25"/>
<line x1="212.8" y1="296.8" x2="212.8" y2="332.9" stroke="#000" stroke-width="1.25"/>
<line x1="219.3" y1="290.6" x2="219.3" y2="310.8" stroke="#000" stroke-width="1.25"/>
<line x1="222.8" y1="279.7" x2="222.8" y2="299.9" stroke="#000" stroke-width="1.25"/>
<line x1="225.6" y1="306.2" x2="225.6" y2="339.9" stroke="#000" stroke-width="1.25"/>
<line x1="227.4" y1="272.1" x2="227.4" y2="296.8" stroke="#000" stroke-width="1.25"/>
<line x1="233" y1="301.5" x2="233" y2="322" stroke="#000" stroke-width="1.25"/>
<line x1="239.6" y1="278.2" x2="239.6" y2="328.5" stroke="#000" stroke-width="1.25"/>
<line x1="242.4" y1="279.7" x2="242.4" y2="330.6" stroke="#000" stroke-width="1.25"/>
<line x1="247.7" y1="274.4" x2="247.7" y2="300.7" stroke="#000" stroke-width="1.25"/>
<line x1="255.5" y1="270.2" x2="255.5" y2="325.1" stroke="#000" stroke-width="1.25"/>
<line x1="259.9" y1="281.8" x2="259.9" y2="318" stroke="#000" stroke-width="1.25"/>
</g>
<g clip-path="url(#c22)">
<line x1="283.8" y1="296" x2="370.8" y2="316.9" stroke="#000" stroke-width="1.25" stroke-dasharray="3.9,1.7"/>
<path d="M279.6,309.2V338.3M278.20000000000005,309.2H281.0M278.20000000000005,338.3H281.0" stroke="#2a2a2a" stroke-width="1.45" fill="none"/>
<circle cx="340" cy="258.1" r="2.32" fill="#0000ff"/>
<circle cx="340" cy="274.8" r="2.32" fill="#0000ff"/>
<circle cx="308.4" cy="270.2" r="2.32" fill="#0000ff"/>
<circle cx="303.7" cy="279" r="2.32" fill="#0000ff"/>
<circle cx="290" cy="280.6" r="2.32" fill="#0000ff"/>
<circle cx="302.2" cy="286.9" r="2.32" fill="#0000ff"/>
<circle cx="302.5" cy="301.5" r="2.32" fill="#0000ff"/>
<circle cx="302.5" cy="303.8" r="2.32" fill="#0000ff"/>
<circle cx="302.5" cy="306.2" r="2.32" fill="#0000ff"/>
<circle cx="302.5" cy="308.5" r="2.32" fill="#0000ff"/>
<circle cx="302.5" cy="325" r="2.32" fill="#0000ff"/>
<circle cx="308.4" cy="292.9" r="2.32" fill="#0000ff"/>
<circle cx="320.9" cy="292.1" r="2.32" fill="#0000ff"/>
<circle cx="320.9" cy="294.5" r="2.32" fill="#0000ff"/>
<circle cx="320.9" cy="296.8" r="2.32" fill="#0000ff"/>
<circle cx="320.9" cy="299.2" r="2.32" fill="#0000ff"/>
<circle cx="327.9" cy="290.6" r="2.32" fill="#0000ff"/>
<circle cx="327.9" cy="292.9" r="2.32" fill="#0000ff"/>
<circle cx="327.9" cy="303.1" r="2.32" fill="#0000ff"/>
<circle cx="340" cy="300.7" r="2.32" fill="#0000ff"/>
<circle cx="340" cy="332" r="2.32" fill="#0000ff"/>
<path d="M281.20,277.35H286.40L283.80,281.85Z" fill="#0000ff"/>
<path d="M318.30,276.25H323.50L320.90,280.75Z" fill="#0000ff"/>
<path d="M318.30,279.05H323.50L320.90,283.55Z" fill="#0000ff"/>
<path d="M281.20,288.35H286.40L283.80,292.85Z" fill="#0000ff"/>
<path d="M281.20,292.25H286.40L283.80,296.75Z" fill="#0000ff"/>
<path d="M281.20,294.55H286.40L283.80,299.05Z" fill="#0000ff"/>
<path d="M281.20,297.65H286.40L283.80,302.15Z" fill="#0000ff"/>
<path d="M287.40,283.65H292.60L290.00,288.15Z" fill="#0000ff"/>
<path d="M287.40,285.95H292.60L290.00,290.45Z" fill="#0000ff"/>
<path d="M287.40,291.45H292.60L290.00,295.95Z" fill="#0000ff"/>
<path d="M287.40,293.75H292.60L290.00,298.25Z" fill="#0000ff"/>
<path d="M287.40,296.15H292.60L290.00,300.65Z" fill="#0000ff"/>
<path d="M287.40,304.75H292.60L290.00,309.25Z" fill="#0000ff"/>
<path d="M293.40,288.35H298.60L296.00,292.85Z" fill="#0000ff"/>
<path d="M293.40,300.85H298.60L296.00,305.35Z" fill="#0000ff"/>
<path d="M293.40,308.55H298.60L296.00,313.05Z" fill="#0000ff"/>
<path d="M305.80,301.55H311.00L308.40,306.05Z" fill="#0000ff"/>
<path d="M305.80,305.45H311.00L308.40,309.95Z" fill="#0000ff"/>
<path d="M305.80,310.95H311.00L308.40,315.45Z" fill="#0000ff"/>
<path d="M312.80,295.35H318.00L315.40,299.85Z" fill="#0000ff"/>
<path d="M312.80,301.55H318.00L315.40,306.05Z" fill="#0000ff"/>
<path d="M312.80,314.95H318.00L315.40,319.45Z" fill="#0000ff"/>
<path d="M312.80,327.95H318.00L315.40,332.45Z" fill="#0000ff"/>
<path d="M312.80,337.65H318.00L315.40,342.15Z" fill="#0000ff"/>
<path d="M318.30,304.75H323.50L320.90,309.25Z" fill="#0000ff"/>
<path d="M318.30,314.85H323.50L320.90,319.35Z" fill="#0000ff"/>
<path d="M318.30,317.75H323.50L320.90,322.25Z" fill="#0000ff"/>
<path d="M318.30,320.45H323.50L320.90,324.95Z" fill="#0000ff"/>
<path d="M318.30,324.15H323.50L320.90,328.65Z" fill="#0000ff"/>
<path d="M318.30,327.55H323.50L320.90,332.05Z" fill="#0000ff"/>
<path d="M325.30,304.75H330.50L327.90,309.25Z" fill="#0000ff"/>
<path d="M337.40,294.55H342.60L340.00,299.05Z" fill="#0000ff"/>
<path d="M337.40,320.75H342.60L340.00,325.25Z" fill="#0000ff"/>
<path d="M299.90,285.25H305.10L302.50,289.75Z" fill="#0000ff"/>
<rect x="369.70" y="302.40" width="4.6" height="4.6" fill="#0000ff"/>
<circle cx="296" cy="235.9" r="2.32" fill="#ff0000"/>
<circle cx="296" cy="331.3" r="2.32" fill="#ff0000"/>
<circle cx="302.2" cy="332.4" r="2.32" fill="#ff0000"/>
<path d="M287.40,269.85H292.60L290.00,274.35Z" fill="#ff0000"/>
<path d="M287.40,279.95H292.60L290.00,284.45Z" fill="#ff0000"/>
<path d="M287.40,326.45H292.60L290.00,330.95Z" fill="#ff0000"/>
<circle cx="327.6" cy="325.1" r="2.32" fill="#000000"/>
<line x1="283.8" y1="279.6" x2="283.8" y2="299.9" stroke="#000" stroke-width="1.25"/>
<line x1="290" y1="272.1" x2="290" y2="328.7" stroke="#000" stroke-width="1.25"/>
<line x1="296" y1="290.6" x2="296" y2="310.8" stroke="#000" stroke-width="1.25"/>
<line x1="302.5" y1="287.5" x2="302.5" y2="325" stroke="#000" stroke-width="1.25"/>
<line x1="308.4" y1="270.2" x2="308.4" y2="313.2" stroke="#000" stroke-width="1.25"/>
<line x1="315.4" y1="297.6" x2="315.4" y2="339.9" stroke="#000" stroke-width="1.25"/>
<line x1="320.9" y1="278.5" x2="320.9" y2="329.8" stroke="#000" stroke-width="1.25"/>
<line x1="327.6" y1="303.1" x2="327.6" y2="325.1" stroke="#000" stroke-width="1.25"/>
<line x1="340" y1="258.1" x2="340" y2="332" stroke="#000" stroke-width="1.25"/>
</g>
<g clip-path="url(#c23)">
<line x1="398" y1="314.7" x2="489.2" y2="288.8" stroke="#000" stroke-width="1.25" stroke-dasharray="3.9,1.7"/>
<path d="M392.9,309.2V338.3M391.5,309.2H394.29999999999995M391.5,338.3H394.29999999999995" stroke="#2a2a2a" stroke-width="1.45" fill="none"/>
<circle cx="399.6" cy="258.1" r="2.32" fill="#0000ff"/>
<circle cx="451.3" cy="274.7" r="2.32" fill="#0000ff"/>
<circle cx="456.5" cy="270.2" r="2.32" fill="#0000ff"/>
<circle cx="459.9" cy="279" r="2.32" fill="#0000ff"/>
<circle cx="489.2" cy="280.8" r="2.32" fill="#0000ff"/>
<circle cx="425.3" cy="286.9" r="2.32" fill="#0000ff"/>
<circle cx="398" cy="306.3" r="2.32" fill="#0000ff"/>
<circle cx="398" cy="325.7" r="2.32" fill="#0000ff"/>
<circle cx="399.6" cy="331.6" r="2.32" fill="#0000ff"/>
<circle cx="425.3" cy="287.5" r="2.32" fill="#0000ff"/>
<circle cx="425.3" cy="303.8" r="2.32" fill="#0000ff"/>
<circle cx="425.3" cy="309.3" r="2.32" fill="#0000ff"/>
<circle cx="444.8" cy="287.5" r="2.32" fill="#0000ff"/>
<circle cx="444.8" cy="290.6" r="2.32" fill="#0000ff"/>
<circle cx="444.8" cy="299.9" r="2.32" fill="#0000ff"/>
<circle cx="444.8" cy="304.6" r="2.32" fill="#0000ff"/>
<circle cx="446" cy="306.2" r="2.32" fill="#0000ff"/>
<circle cx="446" cy="312.4" r="2.32" fill="#0000ff"/>
<circle cx="451.3" cy="300.7" r="2.32" fill="#0000ff"/>
<circle cx="454.9" cy="292.1" r="2.32" fill="#0000ff"/>
<circle cx="454.9" cy="294.5" r="2.32" fill="#0000ff"/>
<circle cx="459.9" cy="303.1" r="2.32" fill="#0000ff"/>
<circle cx="459.9" cy="307.7" r="2.32" fill="#0000ff"/>
<path d="M426.30,277.35H431.50L428.90,281.85Z" fill="#0000ff"/>
<path d="M443.40,276.05H448.60L446.00,280.55Z" fill="#0000ff"/>
<path d="M452.30,277.35H457.50L454.90,281.85Z" fill="#0000ff"/>
<path d="M438.30,283.55H443.50L440.90,288.05Z" fill="#0000ff"/>
<path d="M442.20,279.15H447.40L444.80,283.65Z" fill="#0000ff"/>
<path d="M443.40,283.05H448.60L446.00,287.55Z" fill="#0000ff"/>
<path d="M416.00,298.95H421.20L418.60,303.45Z" fill="#0000ff"/>
<path d="M416.00,314.85H421.20L418.60,319.35Z" fill="#0000ff"/>
<path d="M416.00,319.65H421.20L418.60,324.15Z" fill="#0000ff"/>
<path d="M419.60,303.65H424.80L422.20,308.15Z" fill="#0000ff"/>
<path d="M419.60,314.95H424.80L422.20,319.45Z" fill="#0000ff"/>
<path d="M419.60,337.65H424.80L422.20,342.15Z" fill="#0000ff"/>
<path d="M422.70,321.15H427.90L425.30,325.65Z" fill="#0000ff"/>
<path d="M426.60,289.15H431.80L429.20,293.65Z" fill="#0000ff"/>
<path d="M426.60,293.05H431.80L429.20,297.55Z" fill="#0000ff"/>
<path d="M426.60,296.15H431.80L429.20,300.65Z" fill="#0000ff"/>
<path d="M426.60,327.75H431.80L429.20,332.25Z" fill="#0000ff"/>
<path d="M429.70,294.55H434.90L432.30,299.05Z" fill="#0000ff"/>
<path d="M429.70,301.55H434.90L432.30,306.05Z" fill="#0000ff"/>
<path d="M429.70,327.75H434.90L432.30,332.25Z" fill="#0000ff"/>
<path d="M436.70,297.65H441.90L439.30,302.15Z" fill="#0000ff"/>
<path d="M436.70,303.95H441.90L439.30,308.45Z" fill="#0000ff"/>
<path d="M436.70,324.25H441.90L439.30,328.75Z" fill="#0000ff"/>
<path d="M438.30,291.45H443.50L440.90,295.95Z" fill="#0000ff"/>
<path d="M438.30,296.15H443.50L440.90,300.65Z" fill="#0000ff"/>
<path d="M440.60,299.25H445.80L443.20,303.75Z" fill="#0000ff"/>
<path d="M440.60,303.95H445.80L443.20,308.45Z" fill="#0000ff"/>
<path d="M440.60,314.85H445.80L443.20,319.35Z" fill="#0000ff"/>
<path d="M443.40,322.65H448.60L446.00,327.15Z" fill="#0000ff"/>
<path d="M443.40,326.45H448.60L446.00,330.95Z" fill="#0000ff"/>
<path d="M448.70,286.75H453.90L451.30,291.25Z" fill="#0000ff"/>
<path d="M448.70,293.05H453.90L451.30,297.55Z" fill="#0000ff"/>
<path d="M452.30,296.15H457.50L454.90,300.65Z" fill="#0000ff"/>
<path d="M460.90,288.35H466.10L463.50,292.85Z" fill="#0000ff"/>
<path d="M460.90,293.75H466.10L463.50,298.25Z" fill="#0000ff"/>
<path d="M460.90,301.55H466.10L463.50,306.05Z" fill="#0000ff"/>
<path d="M460.90,308.55H466.10L463.50,313.05Z" fill="#0000ff"/>
<path d="M464.80,301.55H470.00L467.40,306.05Z" fill="#0000ff"/>
<path d="M464.80,311.05H470.00L467.40,315.55Z" fill="#0000ff"/>
<circle cx="430.4" cy="235.9" r="2.32" fill="#ff0000"/>
<circle cx="410.2" cy="331.2" r="2.32" fill="#ff0000"/>
<circle cx="425.3" cy="332.2" r="2.32" fill="#ff0000"/>
<path d="M443.40,269.85H448.60L446.00,274.35Z" fill="#ff0000"/>
<path d="M438.30,280.25H443.50L440.90,284.75Z" fill="#ff0000"/>
<path d="M438.30,326.25H443.50L440.90,330.75Z" fill="#ff0000"/>
<circle cx="459.9" cy="325.1" r="2.32" fill="#000000"/>
<line x1="399.6" y1="258.1" x2="399.6" y2="331.6" stroke="#000" stroke-width="1.25"/>
<line x1="398" y1="306.3" x2="398" y2="325.7" stroke="#000" stroke-width="1.25"/>
<line x1="418.6" y1="301.2" x2="418.6" y2="321.9" stroke="#000" stroke-width="1.25"/>
<line x1="422.2" y1="305.9" x2="422.2" y2="339.9" stroke="#000" stroke-width="1.25"/>
<line x1="425.3" y1="287.5" x2="425.3" y2="332" stroke="#000" stroke-width="1.25"/>
<line x1="428.9" y1="279.6" x2="428.9" y2="330" stroke="#000" stroke-width="1.25"/>
<line x1="432.3" y1="296.8" x2="432.3" y2="330" stroke="#000" stroke-width="1.25"/>
<line x1="439.3" y1="299.9" x2="439.3" y2="326.5" stroke="#000" stroke-width="1.25"/>
<line x1="440.9" y1="282.5" x2="440.9" y2="328.5" stroke="#000" stroke-width="1.25"/>
<line x1="444.8" y1="281.4" x2="444.8" y2="317.1" stroke="#000" stroke-width="1.25"/>
<line x1="446" y1="272.1" x2="446" y2="328.7" stroke="#000" stroke-width="1.25"/>
<line x1="451.3" y1="274.7" x2="451.3" y2="300.7" stroke="#000" stroke-width="1.25"/>
<line x1="456.5" y1="270.2" x2="456.5" y2="298.4" stroke="#000" stroke-width="1.25"/>
<line x1="459.9" y1="303.1" x2="459.9" y2="325.1" stroke="#000" stroke-width="1.25"/>
<line x1="463.5" y1="290.6" x2="463.5" y2="310.8" stroke="#000" stroke-width="1.25"/>
<line x1="467.4" y1="303.8" x2="467.4" y2="313.3" stroke="#000" stroke-width="1.25"/>
</g>
<g clip-path="url(#c24)">
<line x1="510.5" y1="314.3" x2="595.9" y2="291.6" stroke="#000" stroke-width="1.25" stroke-dasharray="3.9,1.7"/>
<path d="M503.8,309.2V338.3M502.40000000000003,309.2H505.2M502.40000000000003,338.3H505.2" stroke="#2a2a2a" stroke-width="1.45" fill="none"/>
<circle cx="523.7" cy="258.1" r="2.32" fill="#0000ff"/>
<circle cx="537" cy="274.8" r="2.32" fill="#0000ff"/>
<circle cx="558.5" cy="270.2" r="2.32" fill="#0000ff"/>
<circle cx="563.1" cy="279" r="2.32" fill="#0000ff"/>
<circle cx="595.9" cy="280.8" r="2.32" fill="#0000ff"/>
<circle cx="548.7" cy="286.9" r="2.32" fill="#0000ff"/>
<circle cx="537" cy="300.8" r="2.32" fill="#0000ff"/>
<circle cx="523.7" cy="331.8" r="2.32" fill="#0000ff"/>
<circle cx="544" cy="290.6" r="2.32" fill="#0000ff"/>
<circle cx="544" cy="292.9" r="2.32" fill="#0000ff"/>
<circle cx="544.8" cy="294.5" r="2.32" fill="#0000ff"/>
<circle cx="548.7" cy="287.5" r="2.32" fill="#0000ff"/>
<circle cx="551.8" cy="292.1" r="2.32" fill="#0000ff"/>
<circle cx="551.8" cy="295.3" r="2.32" fill="#0000ff"/>
<circle cx="546.3" cy="307.7" r="2.32" fill="#0000ff"/>
<circle cx="549.4" cy="310.1" r="2.32" fill="#0000ff"/>
<circle cx="551.8" cy="314" r="2.32" fill="#0000ff"/>
<circle cx="558" cy="292.9" r="2.32" fill="#0000ff"/>
<circle cx="558" cy="296.8" r="2.32" fill="#0000ff"/>
<circle cx="562.2" cy="325.8" r="2.32" fill="#0000ff"/>
<path d="M543.70,277.35H548.90L546.30,281.85Z" fill="#0000ff"/>
<path d="M549.20,276.05H554.40L551.80,280.55Z" fill="#0000ff"/>
<path d="M576.80,277.35H582.00L579.40,281.85Z" fill="#0000ff"/>
<path d="M556.20,279.15H561.40L558.80,283.65Z" fill="#0000ff"/>
<path d="M562.70,283.55H567.90L565.30,288.05Z" fill="#0000ff"/>
<path d="M571.00,283.05H576.20L573.60,287.55Z" fill="#0000ff"/>
<path d="M511.00,293.85H516.20L513.60,298.35Z" fill="#0000ff"/>
<path d="M511.00,320.35H516.20L513.60,324.85Z" fill="#0000ff"/>
<path d="M511.00,329.95H516.20L513.60,334.45Z" fill="#0000ff"/>
<path d="M542.20,296.95H547.40L544.80,301.45Z" fill="#0000ff"/>
<path d="M543.70,298.45H548.90L546.30,302.95Z" fill="#0000ff"/>
<path d="M545.30,300.85H550.50L547.90,305.35Z" fill="#0000ff"/>
<path d="M547.60,302.35H552.80L550.20,306.85Z" fill="#0000ff"/>
<path d="M549.20,297.65H554.40L551.80,302.15Z" fill="#0000ff"/>
<path d="M548.00,314.75H553.20L550.60,319.25Z" fill="#0000ff"/>
<path d="M546.80,317.75H552.00L549.40,322.25Z" fill="#0000ff"/>
<path d="M542.90,327.45H548.10L545.50,331.95Z" fill="#0000ff"/>
<path d="M549.20,326.25H554.40L551.80,330.75Z" fill="#0000ff"/>
<path d="M549.20,337.65H554.40L551.80,342.15Z" fill="#0000ff"/>
<path d="M543.70,328.05H548.90L546.30,332.55Z" fill="#0000ff"/>
<path d="M556.20,292.25H561.40L558.80,296.75Z" fill="#0000ff"/>
<path d="M556.20,297.65H561.40L558.80,302.15Z" fill="#0000ff"/>
<path d="M556.20,300.05H561.40L558.80,304.55Z" fill="#0000ff"/>
<path d="M557.00,306.25H562.20L559.60,310.75Z" fill="#0000ff"/>
<path d="M557.00,310.15H562.20L559.60,314.65Z" fill="#0000ff"/>
<path d="M557.00,314.85H562.20L559.60,319.35Z" fill="#0000ff"/>
<path d="M555.90,328.55H561.10L558.50,333.05Z" fill="#0000ff"/>
<path d="M559.60,300.85H564.80L562.20,305.35Z" fill="#0000ff"/>
<path d="M559.60,310.15H564.80L562.20,314.65Z" fill="#0000ff"/>
<path d="M562.70,283.65H567.90L565.30,288.15Z" fill="#0000ff"/>
<path d="M562.70,297.65H567.90L565.30,302.15Z" fill="#0000ff"/>
<path d="M566.30,287.55H571.50L568.90,292.05Z" fill="#0000ff"/>
<path d="M566.30,301.55H571.50L568.90,306.05Z" fill="#0000ff"/>
<path d="M566.30,308.25H571.50L568.90,312.75Z" fill="#0000ff"/>
<path d="M571.00,286.75H576.20L573.60,291.25Z" fill="#0000ff"/>
<path d="M571.00,289.15H576.20L573.60,293.65Z" fill="#0000ff"/>
<path d="M571.00,294.55H576.20L573.60,299.05Z" fill="#0000ff"/>
<path d="M576.80,298.55H582.00L579.40,303.05Z" fill="#0000ff"/>
<rect x="507.40" y="302.40" width="4.6" height="4.6" fill="#0000ff"/>
<circle cx="549.9" cy="235.9" r="2.32" fill="#ff0000"/>
<circle cx="548.7" cy="332.2" r="2.32" fill="#ff0000"/>
<circle cx="572.5" cy="331.3" r="2.32" fill="#ff0000"/>
<path d="M571.00,269.85H576.20L573.60,274.35Z" fill="#ff0000"/>
<path d="M546.80,280.25H552.00L549.40,284.75Z" fill="#ff0000"/>
<path d="M554.60,326.25H559.80L557.20,330.75Z" fill="#ff0000"/>
<circle cx="547.9" cy="304.6" r="2.32" fill="#000000"/>
<circle cx="546.3" cy="325" r="2.32" fill="#000000"/>
<line x1="513.6" y1="296.1" x2="513.6" y2="332.2" stroke="#000" stroke-width="1.25"/>
<line x1="523.7" y1="258.1" x2="523.7" y2="331.8" stroke="#000" stroke-width="1.25"/>
<line x1="537" y1="274.8" x2="537" y2="300.8" stroke="#000" stroke-width="1.25"/>
<line x1="546.3" y1="279.6" x2="546.3" y2="330.3" stroke="#000" stroke-width="1.25"/>
<line x1="548.2" y1="287.5" x2="548.2" y2="325" stroke="#000" stroke-width="1.25"/>
<line x1="550.2" y1="282.5" x2="550.2" y2="328.5" stroke="#000" stroke-width="1.25"/>
<line x1="551.8" y1="278.3" x2="551.8" y2="339.9" stroke="#000" stroke-width="1.25"/>
<line x1="558.5" y1="270.2" x2="558.5" y2="328.5" stroke="#000" stroke-width="1.25"/>
<line x1="547.2" y1="299" x2="547.2" y2="330" stroke="#000" stroke-width="1.25"/>
<line x1="549.1" y1="300" x2="549.1" y2="332" stroke="#000" stroke-width="1.25"/>
<line x1="550.7" y1="304" x2="550.7" y2="329" stroke="#000" stroke-width="1.25"/>
<line x1="557.3" y1="280" x2="557.3" y2="330" stroke="#000" stroke-width="1.25"/>
<line x1="562.2" y1="303.1" x2="562.2" y2="325.8" stroke="#000" stroke-width="1.25"/>
<line x1="565.3" y1="285.8" x2="565.3" y2="299.9" stroke="#000" stroke-width="1.25"/>
<line x1="568.9" y1="289.8" x2="568.9" y2="310.5" stroke="#000" stroke-width="1.25"/>
<line x1="573.6" y1="272.1" x2="573.6" y2="296.8" stroke="#000" stroke-width="1.25"/>
<line x1="579.4" y1="279.6" x2="579.4" y2="300.8" stroke="#000" stroke-width="1.25"/>
</g>
<g clip-path="url(#c25)">
<line x1="618.8" y1="299.9" x2="724" y2="305.3" stroke="#000" stroke-width="1.25" stroke-dasharray="3.9,1.7"/>
<path d="M618.5,309.2V338.3M617.1,309.2H619.9M617.1,338.3H619.9" stroke="#2a2a2a" stroke-width="1.45" fill="none"/>
<circle cx="673.3" cy="258.1" r="2.32" fill="#0000ff"/>
<circle cx="686.1" cy="270.2" r="2.32" fill="#0000ff"/>
<circle cx="708" cy="274.8" r="2.32" fill="#0000ff"/>
<circle cx="681.1" cy="278.8" r="2.32" fill="#0000ff"/>
<circle cx="646.1" cy="286.9" r="2.32" fill="#0000ff"/>
<circle cx="646.1" cy="303.8" r="2.32" fill="#0000ff"/>
<circle cx="646.1" cy="309.3" r="2.32" fill="#0000ff"/>
<circle cx="649.2" cy="290.6" r="2.32" fill="#0000ff"/>
<circle cx="649.2" cy="292.9" r="2.32" fill="#0000ff"/>
<circle cx="649.2" cy="294.5" r="2.32" fill="#0000ff"/>
<circle cx="649.2" cy="302.3" r="2.32" fill="#0000ff"/>
<circle cx="649.2" cy="304.6" r="2.32" fill="#0000ff"/>
<circle cx="649.2" cy="324.8" r="2.32" fill="#0000ff"/>
<circle cx="673.3" cy="331.8" r="2.32" fill="#0000ff"/>
<circle cx="679.6" cy="294.5" r="2.32" fill="#0000ff"/>
<circle cx="681.1" cy="325.9" r="2.32" fill="#0000ff"/>
<circle cx="686.1" cy="292.9" r="2.32" fill="#0000ff"/>
<circle cx="687.4" cy="311.6" r="2.32" fill="#0000ff"/>
<circle cx="699.8" cy="292.1" r="2.32" fill="#0000ff"/>
<circle cx="700.6" cy="296.8" r="2.32" fill="#0000ff"/>
<circle cx="701.4" cy="307.7" r="2.32" fill="#0000ff"/>
<circle cx="708" cy="300.7" r="2.32" fill="#0000ff"/>
<circle cx="713.9" cy="304.6" r="2.32" fill="#0000ff"/>
<path d="M694.90,276.05H700.10L697.50,280.55Z" fill="#0000ff"/>
<path d="M675.40,277.35H680.60L678.00,281.85Z" fill="#0000ff"/>
<path d="M680.90,277.35H686.10L683.50,281.85Z" fill="#0000ff"/>
<path d="M714.10,279.35H719.30L716.70,283.85Z" fill="#0000ff"/>
<path d="M655.90,283.55H661.10L658.50,288.05Z" fill="#0000ff"/>
<path d="M658.60,285.55H663.80L661.20,290.05Z" fill="#0000ff"/>
<path d="M635.20,291.45H640.40L637.80,295.95Z" fill="#0000ff"/>
<path d="M635.20,304.75H640.40L637.80,309.25Z" fill="#0000ff"/>
<path d="M643.50,293.75H648.70L646.10,298.25Z" fill="#0000ff"/>
<path d="M643.50,296.15H648.70L646.10,300.65Z" fill="#0000ff"/>
<path d="M655.90,296.95H661.10L658.50,301.45Z" fill="#0000ff"/>
<path d="M663.70,289.15H668.90L666.30,293.65Z" fill="#0000ff"/>
<path d="M663.70,293.05H668.90L666.30,297.55Z" fill="#0000ff"/>
<path d="M663.70,296.15H668.90L666.30,300.65Z" fill="#0000ff"/>
<path d="M669.20,306.25H674.40L671.80,310.75Z" fill="#0000ff"/>
<path d="M676.20,283.65H681.40L678.80,288.15Z" fill="#0000ff"/>
<path d="M677.00,288.35H682.20L679.60,292.85Z" fill="#0000ff"/>
<path d="M677.80,293.05H683.00L680.40,297.55Z" fill="#0000ff"/>
<path d="M675.40,297.65H680.60L678.00,302.15Z" fill="#0000ff"/>
<path d="M679.30,298.45H684.50L681.90,302.95Z" fill="#0000ff"/>
<path d="M678.50,303.95H683.70L681.10,308.45Z" fill="#0000ff"/>
<path d="M680.90,304.75H686.10L683.50,309.25Z" fill="#0000ff"/>
<path d="M677.00,308.55H682.20L679.60,313.05Z" fill="#0000ff"/>
<path d="M679.30,314.85H684.50L681.90,319.35Z" fill="#0000ff"/>
<path d="M680.90,328.05H686.10L683.50,332.55Z" fill="#0000ff"/>
<path d="M680.40,337.65H685.60L683.00,342.15Z" fill="#0000ff"/>
<path d="M684.80,299.25H690.00L687.40,303.75Z" fill="#0000ff"/>
<path d="M684.80,310.15H690.00L687.40,314.65Z" fill="#0000ff"/>
<path d="M684.80,314.05H690.00L687.40,318.55Z" fill="#0000ff"/>
<path d="M684.80,315.85H690.00L687.40,320.35Z" fill="#0000ff"/>
<path d="M684.80,319.75H690.00L687.40,324.25Z" fill="#0000ff"/>
<path d="M692.60,303.15H697.80L695.20,307.65Z" fill="#0000ff"/>
<path d="M694.90,300.05H700.10L697.50,304.55Z" fill="#0000ff"/>
<path d="M698.80,300.85H704.00L701.40,305.35Z" fill="#0000ff"/>
<path d="M692.60,324.35H697.80L695.20,328.85Z" fill="#0000ff"/>
<path d="M694.90,326.55H700.10L697.50,331.05Z" fill="#0000ff"/>
<path d="M698.00,328.35H703.20L700.60,332.85Z" fill="#0000ff"/>
<path d="M708.20,298.45H713.40L710.80,302.95Z" fill="#0000ff"/>
<path d="M644.20,331.35H649.40L646.80,335.85Z" fill="#0000ff"/>
<path d="M714.10,306.25H719.30L716.70,310.75Z" fill="#0000ff"/>
<path d="M714.10,315.75H719.30L716.70,320.25Z" fill="#0000ff"/>
<circle cx="635.2" cy="235.9" r="2.32" fill="#ff0000"/>
<circle cx="646.1" cy="332.2" r="2.32" fill="#ff0000"/>
<circle cx="690.5" cy="331.2" r="2.32" fill="#ff0000"/>
<path d="M676.50,269.85H681.70L679.10,274.35Z" fill="#ff0000"/>
<path d="M615.90,280.35H621.10L618.50,284.85Z" fill="#ff0000"/>
<path d="M635.20,326.25H640.40L637.80,330.75Z" fill="#ff0000"/>
<circle cx="701.1" cy="325.1" r="2.32" fill="#000000"/>
<line x1="637.8" y1="293.7" x2="637.8" y2="328.5" stroke="#000" stroke-width="1.25"/>
<line x1="646.1" y1="286.9" x2="646.1" y2="332.2" stroke="#000" stroke-width="1.25"/>
<line x1="649.2" y1="290.6" x2="649.2" y2="324.8" stroke="#000" stroke-width="1.25"/>
<line x1="658.5" y1="285.8" x2="658.5" y2="299.2" stroke="#000" stroke-width="1.25"/>
<line x1="673.3" y1="258.1" x2="673.3" y2="331.8" stroke="#000" stroke-width="1.25"/>
<line x1="679.1" y1="272.1" x2="679.1" y2="326" stroke="#000" stroke-width="1.25"/>
<line x1="683.3" y1="279.6" x2="683.3" y2="339.9" stroke="#000" stroke-width="1.25"/>
<line x1="686.1" y1="270.2" x2="686.1" y2="292.9" stroke="#000" stroke-width="1.25"/>
<line x1="687.4" y1="301.5" x2="687.4" y2="322" stroke="#000" stroke-width="1.25"/>
<line x1="695.2" y1="305.4" x2="695.2" y2="326.6" stroke="#000" stroke-width="1.25"/>
<line x1="697.5" y1="278.3" x2="697.5" y2="329" stroke="#000" stroke-width="1.25"/>
<line x1="701.1" y1="296.8" x2="701.1" y2="330.6" stroke="#000" stroke-width="1.25"/>
<line x1="708" y1="274.8" x2="708" y2="300.7" stroke="#000" stroke-width="1.25"/>
<line x1="716.7" y1="281.6" x2="716.7" y2="318" stroke="#000" stroke-width="1.25"/>
</g>
<rect x="44.10" y="0.50" width="113.40" height="114.90" fill="none" stroke="#000" stroke-width="1.1"/>
<rect x="157.50" y="0.50" width="113.40" height="114.90" fill="none" stroke="#000" stroke-width="1.1"/>
<rect x="270.90" y="0.50" width="113.40" height="114.90" fill="none" stroke="#000" stroke-width="1.1"/>
<rect x="384.30" y="0.50" width="113.40" height="114.90" fill="none" stroke="#000" stroke-width="1.1"/>
<rect x="497.70" y="0.50" width="113.40" height="114.90" fill="none" stroke="#000" stroke-width="1.1"/>
<rect x="611.10" y="0.50" width="113.40" height="114.90" fill="none" stroke="#000" stroke-width="1.1"/>
<rect x="44.10" y="115.40" width="113.40" height="114.90" fill="none" stroke="#000" stroke-width="1.1"/>
<rect x="157.50" y="115.40" width="113.40" height="114.90" fill="none" stroke="#000" stroke-width="1.1"/>
<rect x="270.90" y="115.40" width="113.40" height="114.90" fill="none" stroke="#000" stroke-width="1.1"/>
<rect x="384.30" y="115.40" width="113.40" height="114.90" fill="none" stroke="#000" stroke-width="1.1"/>
<rect x="497.70" y="115.40" width="113.40" height="114.90" fill="none" stroke="#000" stroke-width="1.1"/>
<rect x="611.10" y="115.40" width="113.40" height="114.90" fill="none" stroke="#000" stroke-width="1.1"/>
<rect x="44.10" y="230.30" width="113.40" height="114.90" fill="none" stroke="#000" stroke-width="1.1"/>
<rect x="157.50" y="230.30" width="113.40" height="114.90" fill="none" stroke="#000" stroke-width="1.1"/>
<rect x="270.90" y="230.30" width="113.40" height="114.90" fill="none" stroke="#000" stroke-width="1.1"/>
<rect x="384.30" y="230.30" width="113.40" height="114.90" fill="none" stroke="#000" stroke-width="1.1"/>
<rect x="497.70" y="230.30" width="113.40" height="114.90" fill="none" stroke="#000" stroke-width="1.1"/>
<rect x="611.10" y="230.30" width="113.40" height="114.90" fill="none" stroke="#000" stroke-width="1.1"/>
<line x1="41.50" y1="4.00" x2="44.10" y2="4.00" stroke="#000" stroke-width="0.7"/>
<text x="23.36" y="7.75" font-size="10.95">2</text>
<text x="29.93" y="7.75" font-size="10.95">.</text>
<text x="33.33" y="7.75" font-size="10.95">0</text>
<line x1="41.50" y1="20.42" x2="44.10" y2="20.42" stroke="#000" stroke-width="0.7"/>
<text x="23.45" y="24.17" font-size="10.95">1</text>
<text x="29.93" y="24.17" font-size="10.95">.</text>
<text x="33.29" y="24.17" font-size="10.95">5</text>
<line x1="41.50" y1="36.85" x2="44.10" y2="36.85" stroke="#000" stroke-width="0.7"/>
<text x="23.45" y="40.60" font-size="10.95">1</text>
<text x="29.93" y="40.60" font-size="10.95">.</text>
<text x="33.33" y="40.60" font-size="10.95">0</text>
<line x1="41.50" y1="53.28" x2="44.10" y2="53.28" stroke="#000" stroke-width="0.7"/>
<text x="23.50" y="57.03" font-size="10.95">0</text>
<text x="29.93" y="57.03" font-size="10.95">.</text>
<text x="33.29" y="57.03" font-size="10.95">5</text>
<line x1="41.50" y1="69.70" x2="44.10" y2="69.70" stroke="#000" stroke-width="0.7"/>
<text x="23.50" y="73.45" font-size="10.95">0</text>
<text x="29.93" y="73.45" font-size="10.95">.</text>
<text x="33.33" y="73.45" font-size="10.95">0</text>
<line x1="41.50" y1="86.12" x2="44.10" y2="86.12" stroke="#000" stroke-width="0.7"/>
<rect x="15.73" y="86.21" width="6.45" height="0.85" fill="#000"/>
<text x="23.50" y="89.88" font-size="10.95">0</text>
<text x="29.93" y="89.88" font-size="10.95">.</text>
<text x="33.29" y="89.88" font-size="10.95">5</text>
<line x1="41.50" y1="102.55" x2="44.10" y2="102.55" stroke="#000" stroke-width="0.7"/>
<rect x="15.73" y="102.63" width="6.45" height="0.85" fill="#000"/>
<text x="23.45" y="106.30" font-size="10.95">1</text>
<text x="29.93" y="106.30" font-size="10.95">.</text>
<text x="33.33" y="106.30" font-size="10.95">0</text>
<line x1="154.90" y1="4.00" x2="157.50" y2="4.00" stroke="#000" stroke-width="0.7"/>
<line x1="154.90" y1="20.42" x2="157.50" y2="20.42" stroke="#000" stroke-width="0.7"/>
<line x1="154.90" y1="36.85" x2="157.50" y2="36.85" stroke="#000" stroke-width="0.7"/>
<line x1="154.90" y1="53.28" x2="157.50" y2="53.28" stroke="#000" stroke-width="0.7"/>
<line x1="154.90" y1="69.70" x2="157.50" y2="69.70" stroke="#000" stroke-width="0.7"/>
<line x1="154.90" y1="86.12" x2="157.50" y2="86.12" stroke="#000" stroke-width="0.7"/>
<line x1="154.90" y1="102.55" x2="157.50" y2="102.55" stroke="#000" stroke-width="0.7"/>
<line x1="268.30" y1="4.00" x2="270.90" y2="4.00" stroke="#000" stroke-width="0.7"/>
<line x1="268.30" y1="20.42" x2="270.90" y2="20.42" stroke="#000" stroke-width="0.7"/>
<line x1="268.30" y1="36.85" x2="270.90" y2="36.85" stroke="#000" stroke-width="0.7"/>
<line x1="268.30" y1="53.28" x2="270.90" y2="53.28" stroke="#000" stroke-width="0.7"/>
<line x1="268.30" y1="69.70" x2="270.90" y2="69.70" stroke="#000" stroke-width="0.7"/>
<line x1="268.30" y1="86.12" x2="270.90" y2="86.12" stroke="#000" stroke-width="0.7"/>
<line x1="268.30" y1="102.55" x2="270.90" y2="102.55" stroke="#000" stroke-width="0.7"/>
<line x1="381.70" y1="4.00" x2="384.30" y2="4.00" stroke="#000" stroke-width="0.7"/>
<line x1="381.70" y1="20.42" x2="384.30" y2="20.42" stroke="#000" stroke-width="0.7"/>
<line x1="381.70" y1="36.85" x2="384.30" y2="36.85" stroke="#000" stroke-width="0.7"/>
<line x1="381.70" y1="53.28" x2="384.30" y2="53.28" stroke="#000" stroke-width="0.7"/>
<line x1="381.70" y1="69.70" x2="384.30" y2="69.70" stroke="#000" stroke-width="0.7"/>
<line x1="381.70" y1="86.12" x2="384.30" y2="86.12" stroke="#000" stroke-width="0.7"/>
<line x1="381.70" y1="102.55" x2="384.30" y2="102.55" stroke="#000" stroke-width="0.7"/>
<line x1="495.10" y1="4.00" x2="497.70" y2="4.00" stroke="#000" stroke-width="0.7"/>
<line x1="495.10" y1="20.42" x2="497.70" y2="20.42" stroke="#000" stroke-width="0.7"/>
<line x1="495.10" y1="36.85" x2="497.70" y2="36.85" stroke="#000" stroke-width="0.7"/>
<line x1="495.10" y1="53.28" x2="497.70" y2="53.28" stroke="#000" stroke-width="0.7"/>
<line x1="495.10" y1="69.70" x2="497.70" y2="69.70" stroke="#000" stroke-width="0.7"/>
<line x1="495.10" y1="86.12" x2="497.70" y2="86.12" stroke="#000" stroke-width="0.7"/>
<line x1="495.10" y1="102.55" x2="497.70" y2="102.55" stroke="#000" stroke-width="0.7"/>
<line x1="608.50" y1="4.00" x2="611.10" y2="4.00" stroke="#000" stroke-width="0.7"/>
<line x1="608.50" y1="20.42" x2="611.10" y2="20.42" stroke="#000" stroke-width="0.7"/>
<line x1="608.50" y1="36.85" x2="611.10" y2="36.85" stroke="#000" stroke-width="0.7"/>
<line x1="608.50" y1="53.28" x2="611.10" y2="53.28" stroke="#000" stroke-width="0.7"/>
<line x1="608.50" y1="69.70" x2="611.10" y2="69.70" stroke="#000" stroke-width="0.7"/>
<line x1="608.50" y1="86.12" x2="611.10" y2="86.12" stroke="#000" stroke-width="0.7"/>
<line x1="608.50" y1="102.55" x2="611.10" y2="102.55" stroke="#000" stroke-width="0.7"/>
<line x1="41.50" y1="118.30" x2="44.10" y2="118.30" stroke="#000" stroke-width="0.7"/>
<text x="23.45" y="122.05" font-size="10.95">1</text>
<text x="29.93" y="122.05" font-size="10.95">.</text>
<text x="33.29" y="122.05" font-size="10.95">5</text>
<line x1="41.50" y1="137.00" x2="44.10" y2="137.00" stroke="#000" stroke-width="0.7"/>
<text x="23.45" y="140.75" font-size="10.95">1</text>
<text x="29.93" y="140.75" font-size="10.95">.</text>
<text x="33.33" y="140.75" font-size="10.95">0</text>
<line x1="41.50" y1="155.70" x2="44.10" y2="155.70" stroke="#000" stroke-width="0.7"/>
<text x="23.50" y="159.45" font-size="10.95">0</text>
<text x="29.93" y="159.45" font-size="10.95">.</text>
<text x="33.29" y="159.45" font-size="10.95">5</text>
<line x1="41.50" y1="174.40" x2="44.10" y2="174.40" stroke="#000" stroke-width="0.7"/>
<text x="23.50" y="178.15" font-size="10.95">0</text>
<text x="29.93" y="178.15" font-size="10.95">.</text>
<text x="33.33" y="178.15" font-size="10.95">0</text>
<line x1="41.50" y1="193.10" x2="44.10" y2="193.10" stroke="#000" stroke-width="0.7"/>
<rect x="15.73" y="193.18" width="6.45" height="0.85" fill="#000"/>
<text x="23.50" y="196.85" font-size="10.95">0</text>
<text x="29.93" y="196.85" font-size="10.95">.</text>
<text x="33.29" y="196.85" font-size="10.95">5</text>
<line x1="41.50" y1="211.80" x2="44.10" y2="211.80" stroke="#000" stroke-width="0.7"/>
<rect x="15.73" y="211.88" width="6.45" height="0.85" fill="#000"/>
<text x="23.45" y="215.55" font-size="10.95">1</text>
<text x="29.93" y="215.55" font-size="10.95">.</text>
<text x="33.33" y="215.55" font-size="10.95">0</text>
<line x1="41.50" y1="230.50" x2="44.10" y2="230.50" stroke="#000" stroke-width="0.7"/>
<rect x="15.73" y="230.58" width="6.45" height="0.85" fill="#000"/>
<text x="23.45" y="234.25" font-size="10.95">1</text>
<text x="29.93" y="234.25" font-size="10.95">.</text>
<text x="33.29" y="234.25" font-size="10.95">5</text>
<line x1="154.90" y1="118.30" x2="157.50" y2="118.30" stroke="#000" stroke-width="0.7"/>
<line x1="154.90" y1="137.00" x2="157.50" y2="137.00" stroke="#000" stroke-width="0.7"/>
<line x1="154.90" y1="155.70" x2="157.50" y2="155.70" stroke="#000" stroke-width="0.7"/>
<line x1="154.90" y1="174.40" x2="157.50" y2="174.40" stroke="#000" stroke-width="0.7"/>
<line x1="154.90" y1="193.10" x2="157.50" y2="193.10" stroke="#000" stroke-width="0.7"/>
<line x1="154.90" y1="211.80" x2="157.50" y2="211.80" stroke="#000" stroke-width="0.7"/>
<line x1="154.90" y1="230.50" x2="157.50" y2="230.50" stroke="#000" stroke-width="0.7"/>
<line x1="268.30" y1="118.30" x2="270.90" y2="118.30" stroke="#000" stroke-width="0.7"/>
<line x1="268.30" y1="137.00" x2="270.90" y2="137.00" stroke="#000" stroke-width="0.7"/>
<line x1="268.30" y1="155.70" x2="270.90" y2="155.70" stroke="#000" stroke-width="0.7"/>
<line x1="268.30" y1="174.40" x2="270.90" y2="174.40" stroke="#000" stroke-width="0.7"/>
<line x1="268.30" y1="193.10" x2="270.90" y2="193.10" stroke="#000" stroke-width="0.7"/>
<line x1="268.30" y1="211.80" x2="270.90" y2="211.80" stroke="#000" stroke-width="0.7"/>
<line x1="268.30" y1="230.50" x2="270.90" y2="230.50" stroke="#000" stroke-width="0.7"/>
<line x1="381.70" y1="118.30" x2="384.30" y2="118.30" stroke="#000" stroke-width="0.7"/>
<line x1="381.70" y1="137.00" x2="384.30" y2="137.00" stroke="#000" stroke-width="0.7"/>
<line x1="381.70" y1="155.70" x2="384.30" y2="155.70" stroke="#000" stroke-width="0.7"/>
<line x1="381.70" y1="174.40" x2="384.30" y2="174.40" stroke="#000" stroke-width="0.7"/>
<line x1="381.70" y1="193.10" x2="384.30" y2="193.10" stroke="#000" stroke-width="0.7"/>
<line x1="381.70" y1="211.80" x2="384.30" y2="211.80" stroke="#000" stroke-width="0.7"/>
<line x1="381.70" y1="230.50" x2="384.30" y2="230.50" stroke="#000" stroke-width="0.7"/>
<line x1="495.10" y1="118.30" x2="497.70" y2="118.30" stroke="#000" stroke-width="0.7"/>
<line x1="495.10" y1="137.00" x2="497.70" y2="137.00" stroke="#000" stroke-width="0.7"/>
<line x1="495.10" y1="155.70" x2="497.70" y2="155.70" stroke="#000" stroke-width="0.7"/>
<line x1="495.10" y1="174.40" x2="497.70" y2="174.40" stroke="#000" stroke-width="0.7"/>
<line x1="495.10" y1="193.10" x2="497.70" y2="193.10" stroke="#000" stroke-width="0.7"/>
<line x1="495.10" y1="211.80" x2="497.70" y2="211.80" stroke="#000" stroke-width="0.7"/>
<line x1="495.10" y1="230.50" x2="497.70" y2="230.50" stroke="#000" stroke-width="0.7"/>
<line x1="608.50" y1="118.30" x2="611.10" y2="118.30" stroke="#000" stroke-width="0.7"/>
<line x1="608.50" y1="137.00" x2="611.10" y2="137.00" stroke="#000" stroke-width="0.7"/>
<line x1="608.50" y1="155.70" x2="611.10" y2="155.70" stroke="#000" stroke-width="0.7"/>
<line x1="608.50" y1="174.40" x2="611.10" y2="174.40" stroke="#000" stroke-width="0.7"/>
<line x1="608.50" y1="193.10" x2="611.10" y2="193.10" stroke="#000" stroke-width="0.7"/>
<line x1="608.50" y1="211.80" x2="611.10" y2="211.80" stroke="#000" stroke-width="0.7"/>
<line x1="608.50" y1="230.50" x2="611.10" y2="230.50" stroke="#000" stroke-width="0.7"/>
<line x1="41.50" y1="232.80" x2="44.10" y2="232.80" stroke="#000" stroke-width="0.7"/>
<text x="23.50" y="236.55" font-size="10.95">0</text>
<text x="29.93" y="236.55" font-size="10.95">.</text>
<text x="33.31" y="236.55" font-size="10.95">7</text>
<line x1="41.50" y1="245.90" x2="44.10" y2="245.90" stroke="#000" stroke-width="0.7"/>
<text x="23.50" y="249.65" font-size="10.95">0</text>
<text x="29.93" y="249.65" font-size="10.95">.</text>
<text x="33.33" y="249.65" font-size="10.95">6</text>
<line x1="41.50" y1="259.00" x2="44.10" y2="259.00" stroke="#000" stroke-width="0.7"/>
<text x="23.50" y="262.75" font-size="10.95">0</text>
<text x="29.93" y="262.75" font-size="10.95">.</text>
<text x="33.29" y="262.75" font-size="10.95">5</text>
<line x1="41.50" y1="272.10" x2="44.10" y2="272.10" stroke="#000" stroke-width="0.7"/>
<text x="23.50" y="275.85" font-size="10.95">0</text>
<text x="29.93" y="275.85" font-size="10.95">.</text>
<text x="33.33" y="275.85" font-size="10.95">4</text>
<line x1="41.50" y1="285.20" x2="44.10" y2="285.20" stroke="#000" stroke-width="0.7"/>
<text x="23.50" y="288.95" font-size="10.95">0</text>
<text x="29.93" y="288.95" font-size="10.95">.</text>
<text x="33.34" y="288.95" font-size="10.95">3</text>
<line x1="41.50" y1="298.30" x2="44.10" y2="298.30" stroke="#000" stroke-width="0.7"/>
<text x="23.50" y="302.05" font-size="10.95">0</text>
<text x="29.93" y="302.05" font-size="10.95">.</text>
<text x="33.19" y="302.05" font-size="10.95">2</text>
<line x1="41.50" y1="311.40" x2="44.10" y2="311.40" stroke="#000" stroke-width="0.7"/>
<text x="23.50" y="315.15" font-size="10.95">0</text>
<text x="29.93" y="315.15" font-size="10.95">.</text>
<text x="33.27" y="315.15" font-size="10.95">1</text>
<line x1="41.50" y1="324.50" x2="44.10" y2="324.50" stroke="#000" stroke-width="0.7"/>
<text x="23.50" y="328.25" font-size="10.95">0</text>
<text x="29.93" y="328.25" font-size="10.95">.</text>
<text x="33.33" y="328.25" font-size="10.95">0</text>
<line x1="41.50" y1="337.60" x2="44.10" y2="337.60" stroke="#000" stroke-width="0.7"/>
<rect x="15.73" y="337.68" width="6.45" height="0.85" fill="#000"/>
<text x="23.50" y="341.35" font-size="10.95">0</text>
<text x="29.93" y="341.35" font-size="10.95">.</text>
<text x="33.27" y="341.35" font-size="10.95">1</text>
<line x1="154.90" y1="232.80" x2="157.50" y2="232.80" stroke="#000" stroke-width="0.7"/>
<line x1="154.90" y1="245.90" x2="157.50" y2="245.90" stroke="#000" stroke-width="0.7"/>
<line x1="154.90" y1="259.00" x2="157.50" y2="259.00" stroke="#000" stroke-width="0.7"/>
<line x1="154.90" y1="272.10" x2="157.50" y2="272.10" stroke="#000" stroke-width="0.7"/>
<line x1="154.90" y1="285.20" x2="157.50" y2="285.20" stroke="#000" stroke-width="0.7"/>
<line x1="154.90" y1="298.30" x2="157.50" y2="298.30" stroke="#000" stroke-width="0.7"/>
<line x1="154.90" y1="311.40" x2="157.50" y2="311.40" stroke="#000" stroke-width="0.7"/>
<line x1="154.90" y1="324.50" x2="157.50" y2="324.50" stroke="#000" stroke-width="0.7"/>
<line x1="154.90" y1="337.60" x2="157.50" y2="337.60" stroke="#000" stroke-width="0.7"/>
<line x1="268.30" y1="232.80" x2="270.90" y2="232.80" stroke="#000" stroke-width="0.7"/>
<line x1="268.30" y1="245.90" x2="270.90" y2="245.90" stroke="#000" stroke-width="0.7"/>
<line x1="268.30" y1="259.00" x2="270.90" y2="259.00" stroke="#000" stroke-width="0.7"/>
<line x1="268.30" y1="272.10" x2="270.90" y2="272.10" stroke="#000" stroke-width="0.7"/>
<line x1="268.30" y1="285.20" x2="270.90" y2="285.20" stroke="#000" stroke-width="0.7"/>
<line x1="268.30" y1="298.30" x2="270.90" y2="298.30" stroke="#000" stroke-width="0.7"/>
<line x1="268.30" y1="311.40" x2="270.90" y2="311.40" stroke="#000" stroke-width="0.7"/>
<line x1="268.30" y1="324.50" x2="270.90" y2="324.50" stroke="#000" stroke-width="0.7"/>
<line x1="268.30" y1="337.60" x2="270.90" y2="337.60" stroke="#000" stroke-width="0.7"/>
<line x1="381.70" y1="232.80" x2="384.30" y2="232.80" stroke="#000" stroke-width="0.7"/>
<line x1="381.70" y1="245.90" x2="384.30" y2="245.90" stroke="#000" stroke-width="0.7"/>
<line x1="381.70" y1="259.00" x2="384.30" y2="259.00" stroke="#000" stroke-width="0.7"/>
<line x1="381.70" y1="272.10" x2="384.30" y2="272.10" stroke="#000" stroke-width="0.7"/>
<line x1="381.70" y1="285.20" x2="384.30" y2="285.20" stroke="#000" stroke-width="0.7"/>
<line x1="381.70" y1="298.30" x2="384.30" y2="298.30" stroke="#000" stroke-width="0.7"/>
<line x1="381.70" y1="311.40" x2="384.30" y2="311.40" stroke="#000" stroke-width="0.7"/>
<line x1="381.70" y1="324.50" x2="384.30" y2="324.50" stroke="#000" stroke-width="0.7"/>
<line x1="381.70" y1="337.60" x2="384.30" y2="337.60" stroke="#000" stroke-width="0.7"/>
<line x1="495.10" y1="232.80" x2="497.70" y2="232.80" stroke="#000" stroke-width="0.7"/>
<line x1="495.10" y1="245.90" x2="497.70" y2="245.90" stroke="#000" stroke-width="0.7"/>
<line x1="495.10" y1="259.00" x2="497.70" y2="259.00" stroke="#000" stroke-width="0.7"/>
<line x1="495.10" y1="272.10" x2="497.70" y2="272.10" stroke="#000" stroke-width="0.7"/>
<line x1="495.10" y1="285.20" x2="497.70" y2="285.20" stroke="#000" stroke-width="0.7"/>
<line x1="495.10" y1="298.30" x2="497.70" y2="298.30" stroke="#000" stroke-width="0.7"/>
<line x1="495.10" y1="311.40" x2="497.70" y2="311.40" stroke="#000" stroke-width="0.7"/>
<line x1="495.10" y1="324.50" x2="497.70" y2="324.50" stroke="#000" stroke-width="0.7"/>
<line x1="495.10" y1="337.60" x2="497.70" y2="337.60" stroke="#000" stroke-width="0.7"/>
<line x1="608.50" y1="232.80" x2="611.10" y2="232.80" stroke="#000" stroke-width="0.7"/>
<line x1="608.50" y1="245.90" x2="611.10" y2="245.90" stroke="#000" stroke-width="0.7"/>
<line x1="608.50" y1="259.00" x2="611.10" y2="259.00" stroke="#000" stroke-width="0.7"/>
<line x1="608.50" y1="272.10" x2="611.10" y2="272.10" stroke="#000" stroke-width="0.7"/>
<line x1="608.50" y1="285.20" x2="611.10" y2="285.20" stroke="#000" stroke-width="0.7"/>
<line x1="608.50" y1="298.30" x2="611.10" y2="298.30" stroke="#000" stroke-width="0.7"/>
<line x1="608.50" y1="311.40" x2="611.10" y2="311.40" stroke="#000" stroke-width="0.7"/>
<line x1="608.50" y1="324.50" x2="611.10" y2="324.50" stroke="#000" stroke-width="0.7"/>
<line x1="608.50" y1="337.60" x2="611.10" y2="337.60" stroke="#000" stroke-width="0.7"/>
<line x1="69.50" y1="345.20" x2="69.50" y2="347.80" stroke="#000" stroke-width="0.7"/>
<text x="61.55" y="357.60" font-size="10.95">3</text>
<text x="67.97" y="357.60" font-size="10.95">.</text>
<text x="71.31" y="357.60" font-size="10.95">1</text>
<line x1="94.56" y1="345.20" x2="94.56" y2="347.80" stroke="#000" stroke-width="0.7"/>
<text x="86.61" y="357.60" font-size="10.95">3</text>
<text x="93.03" y="357.60" font-size="10.95">.</text>
<text x="96.44" y="357.60" font-size="10.95">3</text>
<line x1="119.62" y1="345.20" x2="119.62" y2="347.80" stroke="#000" stroke-width="0.7"/>
<text x="111.67" y="357.60" font-size="10.95">3</text>
<text x="118.09" y="357.60" font-size="10.95">.</text>
<text x="121.45" y="357.60" font-size="10.95">5</text>
<line x1="144.68" y1="345.20" x2="144.68" y2="347.80" stroke="#000" stroke-width="0.7"/>
<text x="136.73" y="357.60" font-size="10.95">3</text>
<text x="143.15" y="357.60" font-size="10.95">.</text>
<text x="146.53" y="357.60" font-size="10.95">7</text>
<line x1="178.20" y1="345.20" x2="178.20" y2="347.80" stroke="#000" stroke-width="0.7"/>
<rect x="166.79" y="353.93" width="6.45" height="0.85" fill="#000"/>
<text x="174.52" y="357.60" font-size="10.95">5</text>
<text x="180.99" y="357.60" font-size="10.95">.</text>
<text x="184.24" y="357.60" font-size="10.95">2</text>
<line x1="209.04" y1="345.20" x2="209.04" y2="347.80" stroke="#000" stroke-width="0.7"/>
<rect x="197.63" y="353.93" width="6.45" height="0.85" fill="#000"/>
<text x="205.39" y="357.60" font-size="10.95">4</text>
<text x="211.83" y="357.60" font-size="10.95">.</text>
<text x="215.22" y="357.60" font-size="10.95">8</text>
<line x1="239.88" y1="345.20" x2="239.88" y2="347.80" stroke="#000" stroke-width="0.7"/>
<rect x="228.47" y="353.93" width="6.45" height="0.85" fill="#000"/>
<text x="236.23" y="357.60" font-size="10.95">4</text>
<text x="242.67" y="357.60" font-size="10.95">.</text>
<text x="246.06" y="357.60" font-size="10.95">4</text>
<line x1="283.40" y1="345.20" x2="283.40" y2="347.80" stroke="#000" stroke-width="0.7"/>
<text x="275.44" y="357.60" font-size="10.95">4</text>
<text x="281.87" y="357.60" font-size="10.95">.</text>
<text x="285.27" y="357.60" font-size="10.95">6</text>
<line x1="308.56" y1="345.20" x2="308.56" y2="347.80" stroke="#000" stroke-width="0.7"/>
<text x="300.60" y="357.60" font-size="10.95">4</text>
<text x="307.03" y="357.60" font-size="10.95">.</text>
<text x="310.43" y="357.60" font-size="10.95">8</text>
<line x1="333.72" y1="345.20" x2="333.72" y2="347.80" stroke="#000" stroke-width="0.7"/>
<text x="325.72" y="357.60" font-size="10.95">5</text>
<text x="332.19" y="357.60" font-size="10.95">.</text>
<text x="335.59" y="357.60" font-size="10.95">0</text>
<line x1="358.88" y1="345.20" x2="358.88" y2="347.80" stroke="#000" stroke-width="0.7"/>
<text x="350.88" y="357.60" font-size="10.95">5</text>
<text x="357.35" y="357.60" font-size="10.95">.</text>
<text x="360.61" y="357.60" font-size="10.95">2</text>
<line x1="384.10" y1="345.20" x2="384.10" y2="347.80" stroke="#000" stroke-width="0.7"/>
<rect x="377.60" y="353.93" width="6.45" height="0.85" fill="#000"/>
<text x="385.32" y="357.60" font-size="10.95">1</text>
<line x1="418.50" y1="345.20" x2="418.50" y2="347.80" stroke="#000" stroke-width="0.7"/>
<rect x="412.00" y="353.93" width="6.45" height="0.85" fill="#000"/>
<text x="419.78" y="357.60" font-size="10.95">3</text>
<line x1="452.90" y1="345.20" x2="452.90" y2="347.80" stroke="#000" stroke-width="0.7"/>
<rect x="446.40" y="353.93" width="6.45" height="0.85" fill="#000"/>
<text x="454.13" y="357.60" font-size="10.95">5</text>
<line x1="487.30" y1="345.20" x2="487.30" y2="347.80" stroke="#000" stroke-width="0.7"/>
<rect x="480.80" y="353.93" width="6.45" height="0.85" fill="#000"/>
<text x="488.55" y="357.60" font-size="10.95">7</text>
<line x1="515.50" y1="345.20" x2="515.50" y2="347.80" stroke="#000" stroke-width="0.7"/>
<text x="507.54" y="357.60" font-size="10.95">0</text>
<text x="513.97" y="357.60" font-size="10.95">.</text>
<text x="517.37" y="357.60" font-size="10.95">0</text>
<line x1="545.40" y1="345.20" x2="545.40" y2="347.80" stroke="#000" stroke-width="0.7"/>
<text x="537.44" y="357.60" font-size="10.95">0</text>
<text x="543.87" y="357.60" font-size="10.95">.</text>
<text x="547.23" y="357.60" font-size="10.95">5</text>
<line x1="575.30" y1="345.20" x2="575.30" y2="347.80" stroke="#000" stroke-width="0.7"/>
<text x="567.29" y="357.60" font-size="10.95">1</text>
<text x="573.77" y="357.60" font-size="10.95">.</text>
<text x="577.17" y="357.60" font-size="10.95">0</text>
<line x1="605.20" y1="345.20" x2="605.20" y2="347.80" stroke="#000" stroke-width="0.7"/>
<text x="597.19" y="357.60" font-size="10.95">1</text>
<text x="603.67" y="357.60" font-size="10.95">.</text>
<text x="607.03" y="357.60" font-size="10.95">5</text>
<line x1="641.40" y1="345.20" x2="641.40" y2="347.80" stroke="#000" stroke-width="0.7"/>
<text x="633.40" y="357.60" font-size="10.95">5</text>
<text x="639.87" y="357.60" font-size="10.95">.</text>
<text x="643.27" y="357.60" font-size="10.95">0</text>
<line x1="679.35" y1="345.20" x2="679.35" y2="347.80" stroke="#000" stroke-width="0.7"/>
<text x="671.35" y="357.60" font-size="10.95">5</text>
<text x="677.82" y="357.60" font-size="10.95">.</text>
<text x="681.18" y="357.60" font-size="10.95">5</text>
<line x1="717.30" y1="345.20" x2="717.30" y2="347.80" stroke="#000" stroke-width="0.7"/>
<text x="709.34" y="357.60" font-size="10.95">6</text>
<text x="715.77" y="357.60" font-size="10.95">.</text>
<text x="719.17" y="357.60" font-size="10.95">0</text>
<text x="67.78" y="11.00" font-size="6.9" font-weight="bold" textLength="82.72" lengthAdjust="spacingAndGlyphs">slope = − 2.534 ± 0.371</text>
<text x="67.78" y="20.70" font-size="6.9" font-weight="bold" textLength="40.86" lengthAdjust="spacingAndGlyphs">r<tspan font-size="4.83" dy="1.3">s</tspan><tspan dy="-1.3"> = − 0.644</tspan></text>
<text x="181.18" y="11.00" font-size="6.9" font-weight="bold" textLength="82.72" lengthAdjust="spacingAndGlyphs">slope = − 0.881 ± 0.195</text>
<text x="181.18" y="20.70" font-size="6.9" font-weight="bold" textLength="40.86" lengthAdjust="spacingAndGlyphs">r<tspan font-size="4.83" dy="1.3">s</tspan><tspan dy="-1.3"> = − 0.440</tspan></text>
<text x="294.58" y="11.00" font-size="6.9" font-weight="bold" textLength="82.72" lengthAdjust="spacingAndGlyphs">slope = − 1.488 ± 0.454</text>
<text x="294.58" y="20.70" font-size="6.9" font-weight="bold" textLength="40.86" lengthAdjust="spacingAndGlyphs">r<tspan font-size="4.83" dy="1.3">s</tspan><tspan dy="-1.3"> = − 0.337</tspan></text>
<text x="414.36" y="11.00" font-size="6.9" font-weight="bold" textLength="76.34" lengthAdjust="spacingAndGlyphs">slope = 0.028 ± 0.066</text>
<text x="414.36" y="20.70" font-size="6.9" font-weight="bold" textLength="40.86" lengthAdjust="spacingAndGlyphs">r<tspan font-size="4.83" dy="1.3">s</tspan><tspan dy="-1.3"> = − 0.026</tspan></text>
<text x="527.76" y="11.00" font-size="6.9" font-weight="bold" textLength="76.34" lengthAdjust="spacingAndGlyphs">slope = 0.335 ± 0.259</text>
<text x="527.76" y="20.70" font-size="6.9" font-weight="bold" textLength="34.48" lengthAdjust="spacingAndGlyphs">r<tspan font-size="4.83" dy="1.3">s</tspan><tspan dy="-1.3"> = 0.082</tspan></text>
<text x="634.78" y="11.00" font-size="6.9" font-weight="bold" textLength="82.72" lengthAdjust="spacingAndGlyphs">slope = − 0.826 ± 0.200</text>
<text x="634.78" y="20.70" font-size="6.9" font-weight="bold" textLength="40.86" lengthAdjust="spacingAndGlyphs">r<tspan font-size="4.83" dy="1.3">s</tspan><tspan dy="-1.3"> = − 0.480</tspan></text>
<text x="74.16" y="125.90" font-size="6.9" font-weight="bold" textLength="76.34" lengthAdjust="spacingAndGlyphs">slope = 0.054 ± 0.279</text>
<text x="74.16" y="135.60" font-size="6.9" font-weight="bold" textLength="34.48" lengthAdjust="spacingAndGlyphs">r<tspan font-size="4.83" dy="1.3">s</tspan><tspan dy="-1.3"> = 0.106</tspan></text>
<text x="187.56" y="125.90" font-size="6.9" font-weight="bold" textLength="76.34" lengthAdjust="spacingAndGlyphs">slope = 0.180 ± 0.128</text>
<text x="187.56" y="135.60" font-size="6.9" font-weight="bold" textLength="34.48" lengthAdjust="spacingAndGlyphs">r<tspan font-size="4.83" dy="1.3">s</tspan><tspan dy="-1.3"> = 0.104</tspan></text>
<text x="294.58" y="125.90" font-size="6.9" font-weight="bold" textLength="82.72" lengthAdjust="spacingAndGlyphs">slope = − 0.443 ± 0.283</text>
<text x="294.58" y="135.60" font-size="6.9" font-weight="bold" textLength="40.86" lengthAdjust="spacingAndGlyphs">r<tspan font-size="4.83" dy="1.3">s</tspan><tspan dy="-1.3"> = − 0.192</tspan></text>
<text x="407.98" y="125.90" font-size="6.9" font-weight="bold" textLength="82.72" lengthAdjust="spacingAndGlyphs">slope = − 0.077 ± 0.038</text>
<text x="407.98" y="135.60" font-size="6.9" font-weight="bold" textLength="40.86" lengthAdjust="spacingAndGlyphs">r<tspan font-size="4.83" dy="1.3">s</tspan><tspan dy="-1.3"> = − 0.138</tspan></text>
<text x="527.76" y="125.90" font-size="6.9" font-weight="bold" textLength="76.34" lengthAdjust="spacingAndGlyphs">slope = 0.277 ± 0.152</text>
<text x="527.76" y="135.60" font-size="6.9" font-weight="bold" textLength="34.48" lengthAdjust="spacingAndGlyphs">r<tspan font-size="4.83" dy="1.3">s</tspan><tspan dy="-1.3"> = 0.310</tspan></text>
<text x="641.16" y="125.90" font-size="6.9" font-weight="bold" textLength="76.34" lengthAdjust="spacingAndGlyphs">slope = 0.096 ± 0.131</text>
<text x="641.16" y="135.60" font-size="6.9" font-weight="bold" textLength="34.48" lengthAdjust="spacingAndGlyphs">r<tspan font-size="4.83" dy="1.3">s</tspan><tspan dy="-1.3"> = 0.028</tspan></text>
<text x="67.78" y="240.80" font-size="6.9" font-weight="bold" textLength="82.72" lengthAdjust="spacingAndGlyphs">slope = − 0.205 ± 0.111</text>
<text x="67.78" y="250.50" font-size="6.9" font-weight="bold" textLength="40.86" lengthAdjust="spacingAndGlyphs">r<tspan font-size="4.83" dy="1.3">s</tspan><tspan dy="-1.3"> = − 0.215</tspan></text>
<text x="187.56" y="240.80" font-size="6.9" font-weight="bold" textLength="76.34" lengthAdjust="spacingAndGlyphs">slope = 0.018 ± 0.053</text>
<text x="187.56" y="250.50" font-size="6.9" font-weight="bold" textLength="34.48" lengthAdjust="spacingAndGlyphs">r<tspan font-size="4.83" dy="1.3">s</tspan><tspan dy="-1.3"> = 0.063</tspan></text>
<text x="294.58" y="240.80" font-size="6.9" font-weight="bold" textLength="82.72" lengthAdjust="spacingAndGlyphs">slope = − 0.228 ± 0.114</text>
<text x="294.58" y="250.50" font-size="6.9" font-weight="bold" textLength="40.86" lengthAdjust="spacingAndGlyphs">r<tspan font-size="4.83" dy="1.3">s</tspan><tspan dy="-1.3"> = − 0.242</tspan></text>
<text x="407.98" y="240.80" font-size="6.9" font-weight="bold" textLength="82.72" lengthAdjust="spacingAndGlyphs">slope = − 0.037 ± 0.015</text>
<text x="407.98" y="250.50" font-size="6.9" font-weight="bold" textLength="40.86" lengthAdjust="spacingAndGlyphs">r<tspan font-size="4.83" dy="1.3">s</tspan><tspan dy="-1.3"> = − 0.297</tspan></text>
<text x="527.76" y="240.80" font-size="6.9" font-weight="bold" textLength="76.34" lengthAdjust="spacingAndGlyphs">slope = 0.121 ± 0.061</text>
<text x="527.76" y="250.50" font-size="6.9" font-weight="bold" textLength="34.48" lengthAdjust="spacingAndGlyphs">r<tspan font-size="4.83" dy="1.3">s</tspan><tspan dy="-1.3"> = 0.236</tspan></text>
<text x="634.78" y="240.80" font-size="6.9" font-weight="bold" textLength="82.72" lengthAdjust="spacingAndGlyphs">slope = − 0.029 ± 0.053</text>
<text x="634.78" y="250.50" font-size="6.9" font-weight="bold" textLength="40.86" lengthAdjust="spacingAndGlyphs">r<tspan font-size="4.83" dy="1.3">s</tspan><tspan dy="-1.3"> = − 0.091</tspan></text>
<text x="100.45" y="370.00" font-size="10.8" text-anchor="middle" textLength="45.50" lengthAdjust="spacingAndGlyphs"><tspan font-style="italic">log</tspan><tspan font-size="7.6" dy="2.2">10</tspan><tspan dy="-2.2">​</tspan>(<tspan font-style="italic">V</tspan><tspan font-size="8.6" dy="1.4">∞</tspan><tspan dy="-1.4">​</tspan>)</text>
<text x="213.50" y="372.80" font-size="10.8" text-anchor="middle" textLength="40.10" lengthAdjust="spacingAndGlyphs"><tspan font-style="italic">log</tspan><tspan font-size="7.6" dy="2.2">10</tspan><tspan dy="-2.2">​</tspan>(<tspan font-style="italic">M</tspan>)</text>
<text x="327.10" y="370.00" font-size="10.8" text-anchor="middle" textLength="42.00" lengthAdjust="spacingAndGlyphs"><tspan font-style="italic">log</tspan><tspan font-size="7.6" dy="2.2">10</tspan><tspan dy="-2.2">​</tspan>(<tspan font-style="italic">T</tspan><tspan font-size="5.2" dy="0.6">•</tspan><tspan dy="-0.6">​</tspan>)</text>
<text x="554.00" y="370.00" font-size="10.8" text-anchor="middle" textLength="43.50" lengthAdjust="spacingAndGlyphs"><tspan font-style="italic">log</tspan><tspan font-size="7.6" dy="2.2">10</tspan><tspan dy="-2.2">​</tspan>(<tspan font-style="italic">R</tspan><tspan font-size="5.2" dy="0.6">•</tspan><tspan dy="-0.6">​</tspan>)</text>
<text x="667.80" y="370.00" font-size="10.8" text-anchor="middle" textLength="48.50" lengthAdjust="spacingAndGlyphs"><tspan font-style="italic">log</tspan><tspan font-size="7.6" dy="2.2">10</tspan><tspan dy="-2.2">​</tspan>(<tspan font-style="italic">L</tspan><tspan font-size="7.6" dy="2.0" font-style="italic">bol</tspan><tspan dy="-2.0">​</tspan>)</text>
<text x="429.6" y="370.9" font-size="10.8" font-style="italic">M</text>
<text x="438.6" y="367.4" font-size="7.6" font-style="italic">WR</text>
<text x="437.6" y="373.6" font-size="7.6" font-style="italic">V</text>
<circle cx="222.6" cy="362.6" r="0.55" fill="#000"/>
<text transform="translate(9.00,101.60) rotate(-90)" x="0" y="0" font-size="10.8" textLength="42.80" lengthAdjust="spacingAndGlyphs"><tspan font-style="italic">log</tspan><tspan font-size="7.6" dy="2.2">10</tspan><tspan dy="-2.2">​</tspan>(<tspan font-style="italic">α</tspan><tspan font-size="7.6" dy="2.0">0</tspan><tspan dy="-2.0">​</tspan>)</text>
<text transform="translate(9.00,54.30) rotate(-90)" x="0" y="0" font-size="10.8" textLength="39.80" lengthAdjust="spacingAndGlyphs">[mmag]</text>
<text transform="translate(9.00,214.60) rotate(-90)" x="0" y="0" font-size="10.8" textLength="53.60" lengthAdjust="spacingAndGlyphs"><tspan font-style="italic">log</tspan><tspan font-size="7.6" dy="2.2">10</tspan><tspan dy="-2.2">​</tspan>(<tspan font-style="italic">ν</tspan><tspan font-size="7.6" dy="2.0" font-style="italic">char</tspan><tspan dy="-2.0">​</tspan>)</text>
<text transform="translate(9.00,156.30) rotate(-90)" x="0" y="0" font-size="10.8" textLength="24.80" lengthAdjust="spacingAndGlyphs">[<tspan font-style="italic">d</tspan><tspan font-size="7.6" dy="-4.0">−1</tspan><tspan dy="4.0">​</tspan>]</text>
<text transform="translate(9.00,307.60) rotate(-90)" x="0" y="0" font-size="10.8" textLength="39.00" lengthAdjust="spacingAndGlyphs"><tspan font-style="italic">log</tspan><tspan font-size="7.6" dy="2.2">10</tspan><tspan dy="-2.2">​</tspan>(<tspan font-style="italic">γ</tspan>)</text>
</svg></body></html>
